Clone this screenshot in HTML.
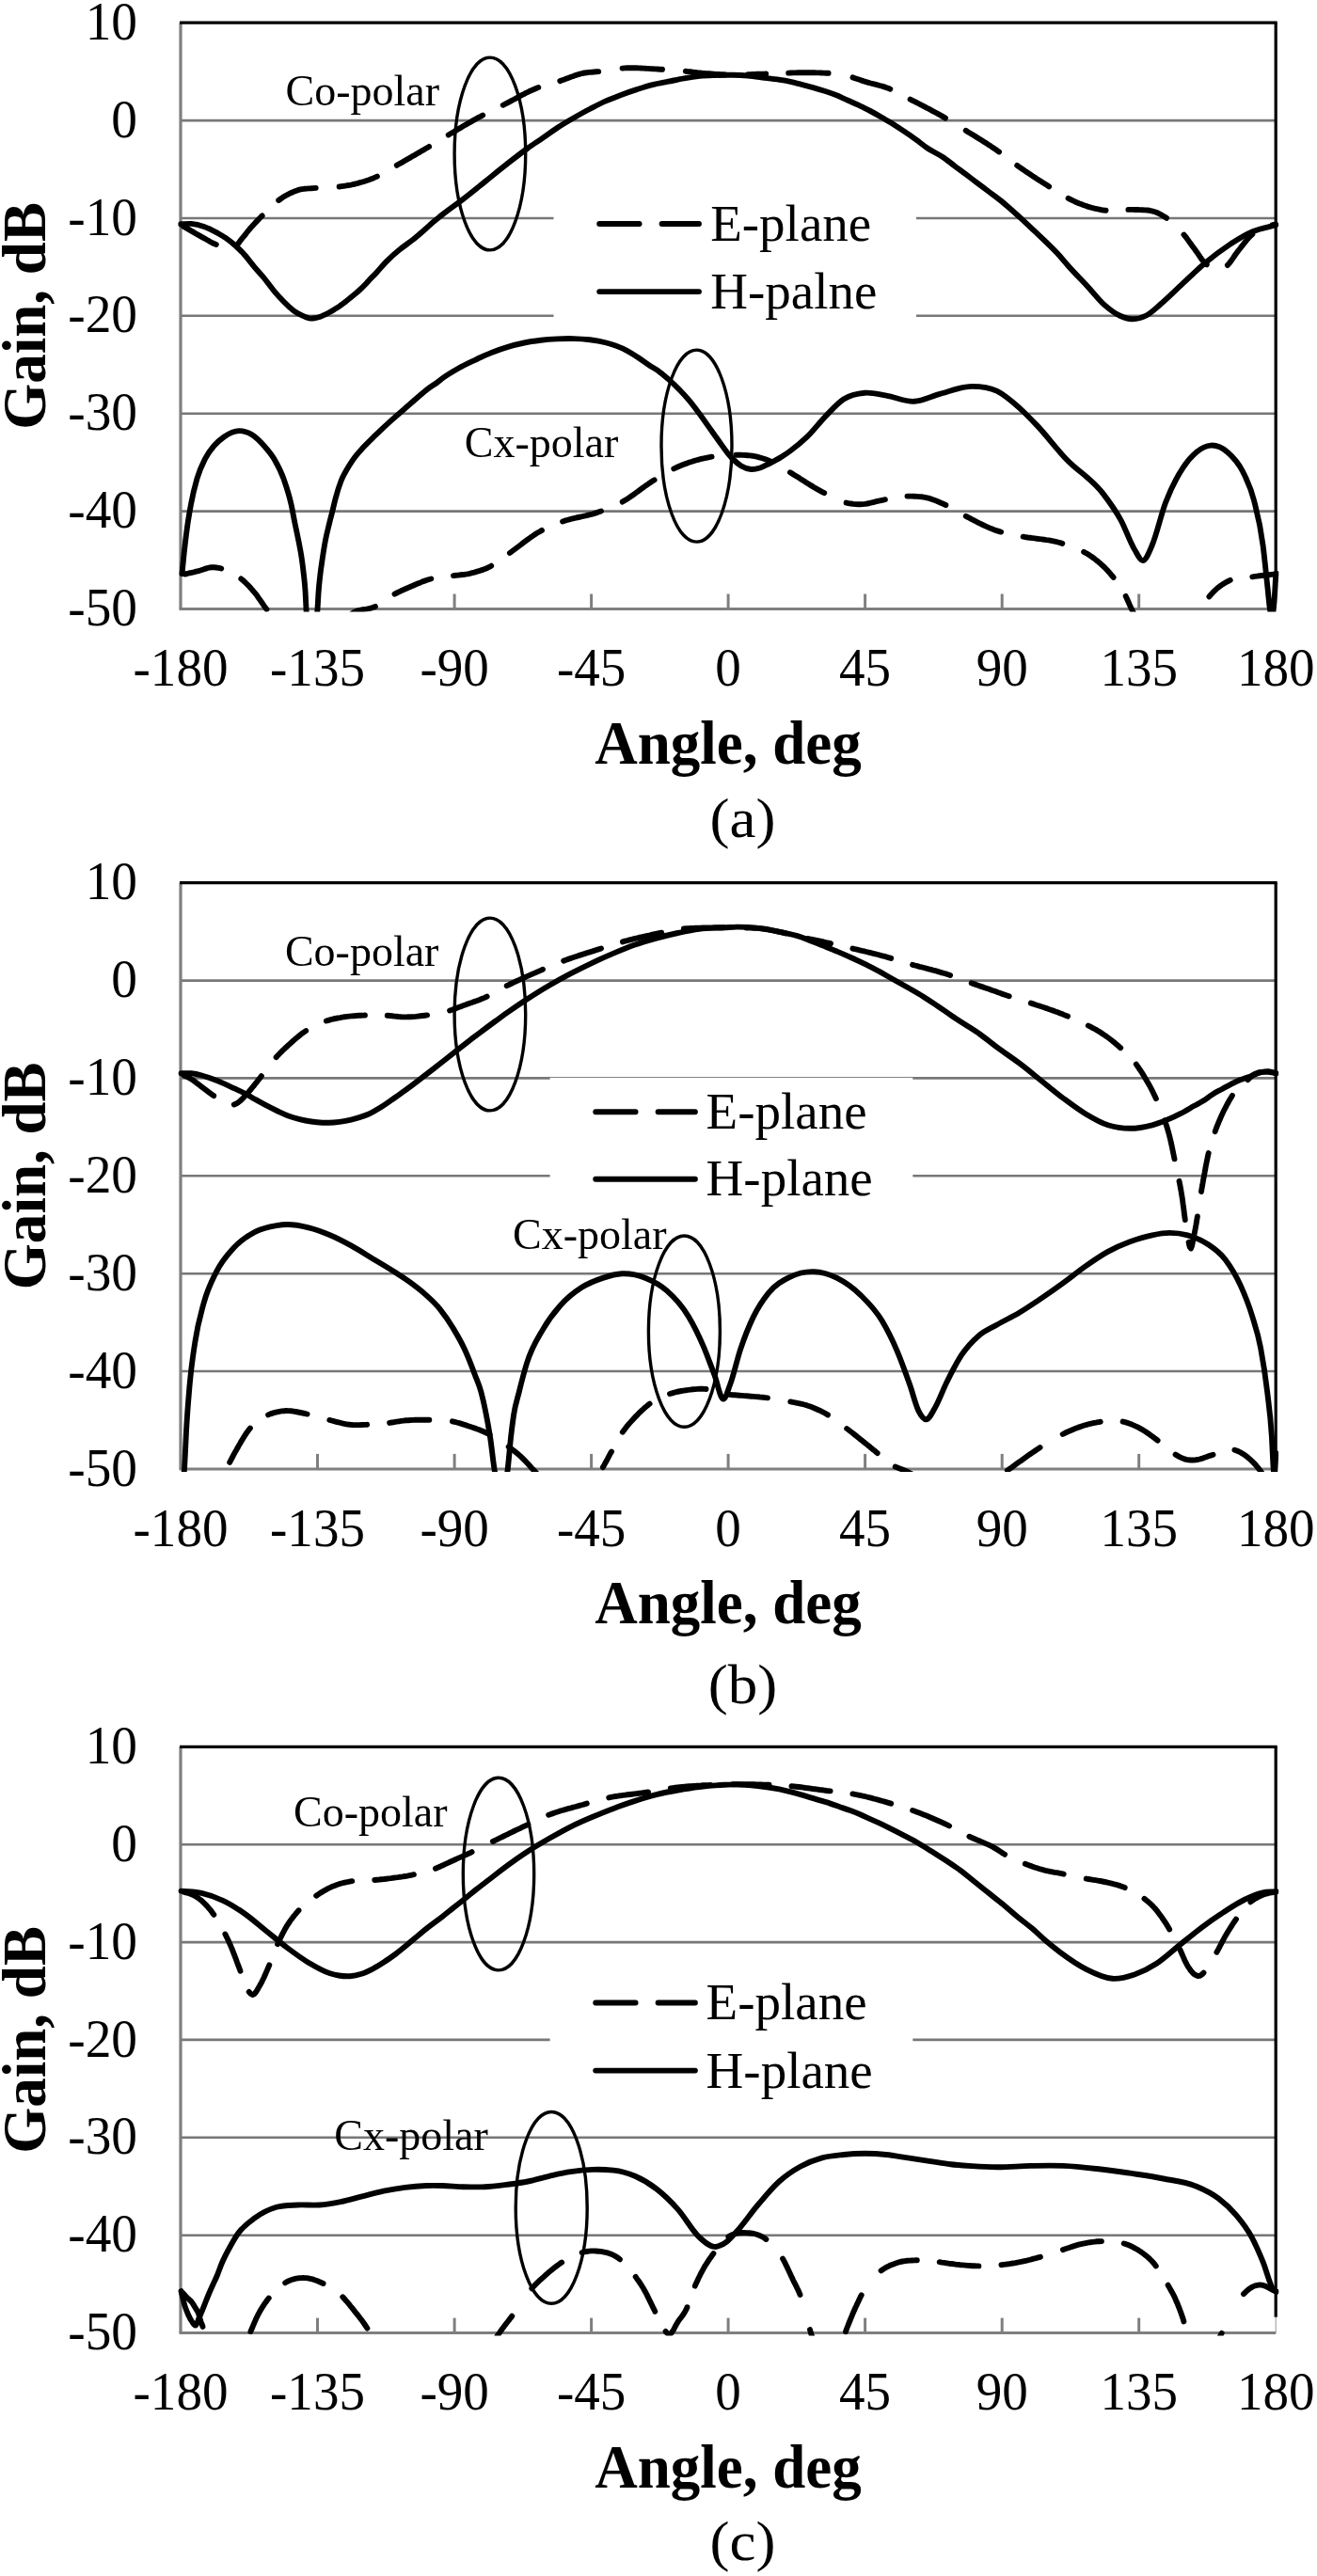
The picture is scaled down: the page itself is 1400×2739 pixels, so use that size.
<!DOCTYPE html><html><head><meta charset="utf-8"><style>html,body{margin:0;padding:0;background:#fff;width:1400px;height:2739px;overflow:hidden}svg{display:block;will-change:transform}text{font-family:"Liberation Serif",serif;fill:#000}</style></head><body>
<svg xmlns="http://www.w3.org/2000/svg" width="1400" height="2739" viewBox="0 0 1400 2739">
<rect width="1400" height="2739" fill="#fff"/>
<g><defs><clipPath id="clip0"><rect x="189" y="21.2" width="1170.2" height="629.3"/></clipPath></defs><line x1="192" y1="128.1" x2="1356.2" y2="128.1" stroke="#777" stroke-width="2.6"/><line x1="192" y1="232" x2="1356.2" y2="232" stroke="#777" stroke-width="2.6"/><line x1="192" y1="335.8" x2="1356.2" y2="335.8" stroke="#777" stroke-width="2.6"/><line x1="192" y1="439.7" x2="1356.2" y2="439.7" stroke="#777" stroke-width="2.6"/><line x1="192" y1="543.6" x2="1356.2" y2="543.6" stroke="#777" stroke-width="2.6"/><line x1="337.5" y1="631.5" x2="337.5" y2="647.5" stroke="#7f7f7f" stroke-width="3"/><line x1="483.1" y1="631.5" x2="483.1" y2="647.5" stroke="#7f7f7f" stroke-width="3"/><line x1="628.6" y1="631.5" x2="628.6" y2="647.5" stroke="#7f7f7f" stroke-width="3"/><line x1="774.1" y1="631.5" x2="774.1" y2="647.5" stroke="#7f7f7f" stroke-width="3"/><line x1="919.6" y1="631.5" x2="919.6" y2="647.5" stroke="#7f7f7f" stroke-width="3"/><line x1="1065.2" y1="631.5" x2="1065.2" y2="647.5" stroke="#7f7f7f" stroke-width="3"/><line x1="1210.7" y1="631.5" x2="1210.7" y2="647.5" stroke="#7f7f7f" stroke-width="3"/><line x1="190.5" y1="647.5" x2="1356.2" y2="647.5" stroke="#7f7f7f" stroke-width="3"/><line x1="192" y1="24.2" x2="192" y2="647.5" stroke="#7f7f7f" stroke-width="3.2"/><line x1="191" y1="24.2" x2="1357.7" y2="24.2" stroke="#000" stroke-width="3.2"/><line x1="1356.2" y1="24.2" x2="1356.2" y2="609.5" stroke="#000" stroke-width="3.2"/><line x1="1356.2" y1="609.5" x2="1356.2" y2="647.5" stroke="#999" stroke-width="1"/><g clip-path="url(#clip0)" fill="none" stroke="#000" stroke-width="5.9" stroke-linecap="round" stroke-linejoin="round"><path d="M192.3,238.3C195.9,238.2 199.6,237.6 203.2,237.9C207.8,238.3 212.3,239.4 216.9,241C221.5,242.6 226,244.9 230.6,247.4C233.6,249.1 236.7,250.8 239.7,252.9C243.3,255.4 247,258.2 250.6,261.5C253.7,264.3 256.9,267.5 260,271C263.3,274.7 266.7,279.3 270,283.3C273.5,287.5 277.1,291.2 280.6,295.5C284.2,299.9 287.7,305 291.3,309.3C294.8,313.5 298.4,317.4 301.9,321C305.4,324.6 309,328 312.5,330.6C316.1,333.2 319.6,334.9 323.2,336.4C325.5,337.3 327.7,338.4 330,338.6C331.8,338.8 333.5,338.4 335.3,338.1C337.1,337.8 338.8,337.4 340.6,336.8C342.4,336.2 344.1,335.3 345.9,334.4C347.7,333.5 349.5,332.5 351.3,331.5C353.1,330.5 354.8,329.4 356.6,328.3C358.4,327.2 360.1,326.1 361.9,324.8C363.7,323.6 365.4,322.2 367.2,320.8C369,319.4 370.7,318 372.5,316.6C374.3,315.2 376,313.8 377.8,312.3C379.6,310.8 381.4,309.2 383.2,307.5C385,305.8 386.7,304.1 388.5,302.2C390.3,300.3 392,298.2 393.8,296.4C395.6,294.5 397.3,292.9 399.1,291.1C403.1,287 407,281.8 411,277.8C415.6,273.2 420.1,269.2 424.7,265.5C429.3,261.8 433.8,258.9 438.4,255.3C442.9,251.7 447.5,247.7 452,243.7C454.7,241.4 457.3,238.9 460,236.6C463.3,233.7 466.7,231.1 470,228.4C477.6,222.3 485.2,217.2 492.8,211.3C500.4,205.4 508,199.2 515.6,193.1C523.2,187 530.7,180.8 538.3,174.9C545.9,169 553.5,162.9 561.1,157.5C566.3,153.8 571.5,150.5 576.7,146.9C582.3,143.1 587.8,138.8 593.4,135.2C599,131.6 604.5,128.4 610.1,125.2C615.7,122 621.2,118.9 626.8,116C632.4,113.1 637.9,110.1 643.5,107.6C649.1,105.1 654.6,103 660.2,100.9C665.8,98.8 671.3,96.9 676.9,95.1C682.5,93.3 688,91.5 693.6,90.1C699.2,88.7 704.8,87.8 710.4,86.7C716,85.6 721.5,84.4 727.1,83.4C732.7,82.4 738.2,81.5 743.8,80.9C749.4,80.3 754.9,80.2 760.5,80C766.8,79.8 773.2,79.7 779.5,79.8C784.6,79.9 789.6,80.1 794.7,80.5C800.8,81 806.8,82 812.9,82.8C819,83.6 825,84 831.1,85.1C834.1,85.6 837.2,86.2 840.2,86.9C844.2,87.8 848.2,88.9 852.2,89.9C856.2,90.9 860.3,92 864.3,93.1C868.4,94.2 872.4,95.4 876.5,96.7C880.5,98 884.6,99.4 888.6,101C892.7,102.6 896.7,104.7 900.8,106.5C904.8,108.3 908.9,110 912.9,111.9C917,113.8 921,115.9 925.1,118C929.1,120.1 933.2,122.4 937.2,124.7C941.3,127 945.3,129.5 949.4,132C953.4,134.5 957.5,137.2 961.5,139.9C965.6,142.6 969.6,145.5 973.7,148.4C977.7,151.3 981.8,154.8 985.8,157.5C991.3,161.2 996.7,163.3 1002.2,167C1006.2,169.7 1010.3,173.1 1014.3,176.1C1018.4,179.1 1022.4,182.2 1026.5,185.2C1030.5,188.2 1034.6,191.3 1038.6,194.3C1042.7,197.4 1046.7,200.4 1050.8,203.5C1054.8,206.5 1058.9,209.4 1062.9,212.6C1067,215.8 1071,219.4 1075.1,222.9C1079.1,226.4 1083.2,230.1 1087.2,233.8C1091.3,237.6 1095.3,241.5 1099.4,245.4C1103.4,249.2 1107.5,253 1111.5,256.9C1115.6,260.9 1119.6,264.7 1123.7,269.1C1127.7,273.4 1131.8,278.5 1135.8,283C1142.8,290.8 1149.7,297.6 1156.7,305.2C1162.3,311.2 1167.8,318.6 1173.4,323.6C1179,328.6 1184.5,332.9 1190.1,335.5C1194.6,337.6 1199,339.1 1203.5,339.2C1208.5,339.3 1213.5,338.1 1218.5,335.5C1223.5,332.9 1228.6,327.9 1233.6,323.6C1241.4,317 1249.1,309.1 1256.9,301.9C1264.7,294.7 1272.5,286.8 1280.3,280.2C1289.2,272.7 1298.2,266 1307.1,260.1C1315.4,254.6 1323.8,249.4 1332.1,245.9C1340.1,242.6 1348.1,241.5 1356.1,239.3"/><path d="M193.5,610.1C194.2,603 194.9,595.4 195.6,588.8C196.7,578.8 197.7,570.1 198.8,562.2C200.2,551.6 201.7,543.4 203.1,535.7C205.2,524.4 207.3,516.4 209.4,509.1C212.3,499.1 215.1,493.5 218,487.8C221.2,481.5 224.3,477.8 227.5,474C231.1,469.8 234.6,467 238.2,464.5C243.5,460.8 248.8,458.2 254.1,458.1C258.7,458 263.3,459.4 267.9,462.3C272.2,464.9 276.4,469.2 280.7,474C284.2,478 287.8,481.8 291.3,487.8C294.8,493.8 298.4,500.1 301.9,510.2C304.4,517.4 306.9,524.5 309.4,535.7C310.8,541.8 312.1,549.8 313.5,556.5C314.8,562.7 316,568.1 317.3,574.7C318.4,580.4 319.5,585.3 320.6,592.9C321.4,598.2 322.1,603.8 322.9,611.1C323.5,616.5 324,619.8 324.6,629.4C324.9,634.5 325.2,642.6 325.5,647.6C326.3,661.5 327.2,661 328,665C329,669.9 330,671.7 331,672C332.2,672.4 333.3,669.7 334.5,665C335.5,661 336.5,661.3 337.5,647.6C337.9,642.6 338.2,634.6 338.6,629.4C339.2,620.9 339.8,616.5 340.4,611.1C341.2,603.6 342.1,598.5 342.9,592.9C343.9,586.2 344.9,580 345.9,574.7C347.3,567.2 348.7,562.3 350.1,556.5C351.2,551.8 352.4,547.6 353.5,543C354.6,538.6 355.7,533.6 356.8,529.5C358.7,522.4 360.6,516.4 362.5,511.5C364.5,506.2 366.6,503.1 368.6,499.4C370.6,495.8 372.7,492.6 374.7,489.6C378.7,483.7 382.8,479.5 386.8,475.1C390.9,470.6 394.9,466.9 399,462.9C405.1,457 411.1,451.4 417.2,445.9C423.3,440.4 429.3,435.4 435.4,430.1C441.5,424.8 447.6,419 453.7,414.3C457.7,411.2 461.8,408.9 465.8,405.8C467.2,404.7 468.6,403.6 470,402.5C475.8,398.1 481.7,394.8 487.5,391.5C493.3,388.2 499.1,385.6 504.9,382.8C510.7,380 516.6,377.2 522.4,374.9C528.2,372.6 534.1,370.5 539.9,368.8C545.7,367.1 551.5,365.7 557.3,364.5C563.1,363.3 569,362.5 574.8,361.8C580.6,361.1 586.4,360.7 592.2,360.4C598,360.1 603.9,360 609.7,360.1C615.5,360.2 621.4,360.6 627.2,361.3C633,362 638.8,363 644.6,364.5C650.4,366.1 656.3,367.9 662.1,370.6C667.9,373.4 673.8,377.1 679.6,381C683.1,383.3 686.5,386 690,388.3C693.4,390.6 696.9,392.3 700.3,394.8C704,397.5 707.6,400.6 711.3,403.9C714.8,407 718.4,410.4 721.9,414C725.4,417.6 729,421.5 732.5,425.7C736.1,430 739.6,434.7 743.2,439.5C746.7,444.3 750.3,449.4 753.8,454.4C757.3,459.4 760.9,464.4 764.4,469.3C767.2,473.2 770.1,477.5 772.9,481C775.3,483.9 777.6,486.7 780,489C782.7,491.6 785.3,493.9 788,495.5C791.5,497.6 794.9,498.7 798.4,499C801.6,499.3 804.8,498.5 808,497.5C811.2,496.5 814.4,494.6 817.6,493C821.7,490.9 825.9,488.9 830,486.3C833.3,484.2 836.7,482 840,479.5C846,475.1 852,470.2 858,464.4C864.8,457.8 871.7,448.6 878.5,441.6C884.6,435.4 890.6,428.5 896.7,424.5C904.3,419.5 911.9,418.3 919.5,417.7C927.1,417.1 934.6,419.5 942.2,420.7C952.1,422.3 961.9,427.3 971.8,426.8C980.9,426.3 990.1,421.2 999.2,418.8C1010.6,415.8 1021.9,410.9 1033.3,410.9C1042.2,410.9 1051.1,411.6 1060,415.9C1067.8,419.7 1075.7,426.7 1083.5,433.6C1089.8,439.2 1096.1,445.8 1102.4,452.4C1112.6,463.2 1122.8,476.9 1133,487.7C1146.3,501.9 1159.7,507.8 1173,525.4C1179.3,533.7 1185.5,541.9 1191.8,553.6C1196.5,562.5 1201.3,576.6 1206,584.2C1209.1,589.3 1212.3,596.8 1215.4,596C1218.5,595.2 1221.7,586.8 1224.8,579.5C1229.5,568.6 1234.2,547.4 1238.9,534.8C1245.2,518.1 1251.4,506.6 1257.7,497.1C1262.4,489.9 1267.2,484.6 1271.9,480.7C1277,476.5 1282.1,473.9 1287.2,473.6C1293.1,473.2 1298.9,475.7 1304.8,480.7C1310.3,485.4 1315.8,490.6 1321.3,501.8C1325.2,509.8 1329.2,516.9 1333.1,532.4C1336.2,544.7 1339.4,555.4 1342.5,579.5C1344.2,592.3 1345.8,609.7 1347.5,625C1348.3,632.6 1349.2,643 1350,648C1350.8,653 1351.7,657.4 1352.5,655C1353.2,653.1 1353.8,648.2 1354.5,640C1355.1,632.6 1355.7,620 1356.3,610"/><path d="M194.9,240.7 197,241.9 199.2,243.1 201.4,244.4 203.5,245.6 205.7,246.9 207.9,248.2 210,249.4 212.2,250.6 214.4,251.9 216.6,253.1 218.7,254.3 220.9,255.5 223.1,256.8 225.3,258 227.5,259.1 229.8,260M252.3,260.1 253.9,258.1 255.4,256.1 256.9,254.1 258.5,252.2 260,250.3 261.6,248.3 263.1,246.3 264.7,244.4 266.3,242.5 268,240.6 269.7,238.8 271.4,236.9 273.1,235.1 274.8,233.3 276.6,231.5 278.3,229.7 278.7,229.4M296.2,213 298.3,211.5 300.3,210.1 302.4,208.8 304.6,207.5 306.8,206.3 309,205.2 311.3,204.2 313.6,203.3 316,202.4 318.4,201.7 320.8,201.2 323.3,200.8 325.8,200.6 328.3,200.4 330.8,200.3 333.3,200.1 335.7,199.9M360.6,198.5 363.1,198.1 365.6,197.8 368.1,197.4 370.5,197 373,196.6 375.4,196 377.9,195.5 380.3,194.9 382.7,194.2 385.1,193.5 387.5,192.8 389.9,192 392.2,191.2 394.6,190.3 396.9,189.4 399.2,188.4 400.9,187.6M421.8,175.8 423.9,174.5 426.1,173.3 428.3,172.1 430.5,170.8 432.6,169.6 434.8,168.3 437,167.1 439.1,165.8 441.3,164.6 443.5,163.3 445.6,162.1 447.8,160.8 449.9,159.6 452.1,158.3 454.3,157 456.1,155.9M476.7,143.5 478.8,142.3 481,141 483.1,139.7 485.3,138.4 487.4,137.1 489.6,135.9 491.7,134.6 493.9,133.3 496,132.1 498.2,130.8 500.4,129.6 502.5,128.4 504.7,127.1 506.9,125.9 509.1,124.7 511.3,123.6 513.2,122.5M534.7,111.8 537,110.7 539.2,109.5 541.4,108.4 543.6,107.2 545.8,106 548,104.8 550.2,103.6 552.4,102.4 554.6,101.2 556.8,100.1 559,98.9 561.3,97.8 563.5,96.7 565.8,95.7 568.1,94.7 570.4,93.7 572.3,93M595.3,86.1 597.6,85.3 600,84.5 602.3,83.6 604.7,82.7 607,81.8 609.4,81 611.7,80.1 614.1,79.3 616.5,78.6 618.9,78 621.4,77.5 623.8,77.2 626.3,76.9 628.8,76.7 631.3,76.5 633.8,76.3 636.2,76.1M661.6,72.6 664.1,72.4 666.6,72.3 669.1,72.3 671.6,72.3 674.1,72.3 676.6,72.3 679.1,72.4 681.6,72.5 684.1,72.6 686.6,72.8 689.1,72.9 691.6,73.1 694.1,73.2 696.6,73.4 699.1,73.5 701.6,73.7 704,73.8M728.8,75.8 731.3,76.1 733.8,76.3 736.3,76.6 738.8,76.9 741.3,77.2 743.7,77.4 746.2,77.7 748.7,77.9 751.2,78.1 753.7,78.3 756.2,78.5 758.7,78.7 761.2,78.9 763.7,79 766.2,79.2 768.7,79.3 771.1,79.4M795.1,79.2 797.6,79.1 800.1,79 802.6,78.9 805.1,78.8 807.6,78.7 810.1,78.6 812.5,78.6 814.2,78.5M838.2,77.6 840.7,77.5 843.2,77.4 845.7,77.4 848.2,77.3 850.7,77.2 853.2,77.2 855.7,77.2 858.2,77.2 860.7,77.2 863.2,77.3 865.7,77.3 868.2,77.4 870.7,77.4 873.2,77.5 875.7,77.6 878.2,77.7 880.6,77.8M906.5,82.4 908.9,83.2 911.3,84 913.7,84.8 916,85.6 918.4,86.4 920.8,87.1 923.2,87.8 925.6,88.5 928,89.1 930.4,89.7 932.9,90.3 935.3,91 937.7,91.6 940.1,92.4 942.4,93.2 944.8,94.1 946.3,94.7M967.6,105.6 969.9,106.8 972.1,107.9 974.3,109 976.5,110.2 978.8,111.3 981,112.5 983.2,113.6 985.4,114.8 987.6,115.9 989.8,117.1 992,118.3 994.2,119.5 996.4,120.7 998.6,121.9 1000.8,123.1 1003,124.4 1005,125.6M1026.7,138.8 1028.8,140.2 1031,141.5 1033.1,142.8 1035.2,144.1 1037.4,145.4 1039.5,146.7 1041.6,148 1043.7,149.3 1045.9,150.7 1048,152 1050.1,153.4 1052.2,154.7 1054.2,156.1 1056.3,157.5 1058.4,158.9 1060.4,160.4 1062,161.5M1081.2,175.9 1083.2,177.4 1085.3,178.8 1087.4,180.2 1089.4,181.6 1091.5,183 1093.6,184.4 1095.7,185.8 1097.7,187.2 1099.8,188.5 1101.9,189.9 1104,191.2 1106.1,192.6 1108.2,193.9 1110.3,195.3 1112.4,196.6 1114.6,198 1115.1,198.4M1135.6,210.9 1137.8,212 1140.1,213.1 1142.3,214.2 1144.6,215.2 1146.9,216.2 1149.2,217.1 1151.6,218 1153.9,218.8 1156.3,219.6 1158.7,220.3 1161.1,221 1163.5,221.7 1166,222.2 1168.4,222.7 1170.9,223.2 1173.4,223.5 1175.5,223.7M1199.4,222.9 1201.9,222.9 1204.4,222.9 1206.9,223 1209.4,223 1211.9,223.1 1214.4,223.2 1216.9,223.4 1219.4,223.5 1221.9,223.8 1224.4,224.3 1226.8,225 1229.1,225.8 1231.4,226.8 1233.7,227.9 1235.8,229.2 1238,230.5 1240,231.8M1258.5,249.5 1260,251.4 1261.6,253.4 1263,255.4 1264.5,257.5 1266,259.5 1267.4,261.5 1268.9,263.5 1270.4,265.5 1271.8,267.6 1273.3,269.6 1274.7,271.7 1276.1,273.8 1277.5,275.8 1279.1,277.7 1280.8,279.6 1282.6,281.3 1282.8,281.4M1304.9,282 1306.6,280.1 1308.1,278.2 1309.6,276.1 1311,274.1 1312.4,272 1313.8,269.9 1315.3,267.9 1316.8,266 1318.4,264 1319.9,262 1321.5,260.1 1323,258.1 1324.6,256.1 1326.2,254.2 1327.8,252.4 1329.6,250.6 1331.4,249M1352.7,239.1 1355.2,238.7 1356.1,238.5"/><path d="M196.4,610.5 198.8,610 201.2,609.4 203.7,608.8 206.1,608.3 208.5,607.7 211,607.1 213,606.5 215.4,605.7 217.8,604.9 220.1,604.1 222.6,603.5 225,603.2 227.5,603.2 230,603.5 232.5,603.9 234.9,604.4 235.2,604.5M256.3,615.4 258.2,617 260.1,618.7 261.9,620.5 263.6,622.2 265.4,624 267,625.9 268.7,627.8 270.3,629.7 271.9,631.6 273.4,633.6 274.8,635.7 276.3,637.7 277.7,639.8 279.1,641.8 280.5,643.9 282,645.9 283.4,647.8M298.7,666.1 300.9,667.5 303.1,668.6 305.4,669.5 307.8,670.2 310.3,670.7 312.8,671 315.2,671.4 317.7,671.7 320.2,672 322.7,672.4 325.2,672.6 327.7,672.7 330.2,672.7 332.6,672.6 335.1,672.4 337.6,672.1 340,671.8M361.7,662.9 363.6,661.3 365.4,659.6 367.3,657.9 369.2,656.2 371.1,654.6 373,653.1 375.1,651.7 377.3,650.4 379.6,649.5 382,648.8 384.4,648.3 386.9,647.9 389.4,647.6 391.9,647.2 394.3,646.6 396.7,645.8 398.9,644.9M419.5,631.6 421.7,630.5 424,629.4 426.2,628.3 428.5,627.3 430.8,626.3 433.1,625.3 435.4,624.3 437.7,623.3 440,622.3 442.3,621.3 444.6,620.3 446.9,619.4 449.2,618.4 451.5,617.6 453.9,616.8 456.3,616 458.3,615.5M482,612.1 484.5,611.8 487,611.6 489.5,611.3 492,611 494.4,610.7 496.9,610.3 499.4,609.8 501.8,609.2 504.2,608.6 506.6,607.9 509,607.2 511.4,606.4 513.8,605.6 516.1,604.7 518.4,603.7 520.6,602.6 522.2,601.7M541.9,588 543.9,586.5 545.9,585 547.9,583.5 549.9,582 551.9,580.5 553.9,579 555.9,577.4 557.9,575.9 559.9,574.4 561.9,573 563.9,571.5 566,570.1 568,568.7 570.1,567.3 572.3,566 574.5,564.8 576,563.9M598.1,554.5 600.4,553.7 602.8,553 605.2,552.3 607.7,551.7 610.1,551.1 612.5,550.5 615,550 617.4,549.5 619.9,548.9 622.3,548.4 624.7,547.8 627.2,547.2 629.6,546.6 632,545.9 634.4,545.1 636.7,544.3 639,543.5M661.7,533.6 663.8,532.3 666,531 668.1,529.6 670.1,528.2 672.2,526.8 674.2,525.3 676.2,523.9 678.3,522.4 680.3,520.9 682.3,519.4 684.3,518 686.3,516.5 688.4,515.1 690.4,513.7 692.5,512.3 694.6,510.9 695.6,510.4M716.3,498.4 718.6,497.3 720.9,496.3 723.2,495.3 725.5,494.3 727.8,493.4 730.2,492.6 732.5,491.7 734.9,491 737.3,490.2 739.7,489.5 742.1,488.8 744.5,488.2 746.9,487.6 749.4,487.1 751.8,486.6 754.3,486.1 756.6,485.7M782.4,483.8 784.9,483.8 787.4,483.8 789.9,483.9 792.4,484 794.9,484.2 797.4,484.4 799.8,484.7 802.3,485.1 804.7,485.6 807.2,486.3 809.6,487 811.9,487.7 814.3,488.6 816.6,489.5 818.9,490.5 819,490.5M839.9,502.3 842.1,503.6 844.2,504.9 846.3,506.2 848.5,507.5 850.6,508.9 852.7,510.2 854.8,511.6 856.9,512.9 859,514.2 861.1,515.6 863.3,516.9 865.4,518.2 867.5,519.4 869.7,520.7 871.9,521.9 874.1,523.1 876.2,524.2M899.6,534.6 902,535.1 904.5,535.5 907,535.9 909.4,536.1 911.9,536.2 914.4,536.2 916.9,536.1 919.4,535.9 921.9,535.5 924.3,535 926.8,534.4 929.2,533.8 931.6,533.2 934.1,532.6 936.5,532.1 939,531.6 940.9,531.2M964.5,527.6 967,527.6 969.5,527.6 972,527.7 974.5,527.9 977,528.1 979.5,528.3 982,528.6 984.4,529.1 986.9,529.7 989.3,530.4 991.6,531.2 994,532.1 996.3,533 998.6,534 1000.9,535 1003.2,536 1005.4,537M1026.8,548.9 1029,550 1031.2,551.2 1033.4,552.4 1035.7,553.5 1037.9,554.7 1040.1,555.8 1042.3,556.9 1044.6,558 1046.9,559.1 1049.1,560.1 1051.4,561.1 1053.7,562.1 1056.1,563 1058.4,563.9 1060.8,564.6 1063.2,565.4 1064.1,565.6M1087.6,570.7 1090.1,571.1 1092.5,571.5 1095,571.8 1097.5,572.1 1100,572.4 1102.4,572.8 1104.9,573.1 1107.4,573.4 1109.9,573.7 1112.4,574.1 1114.8,574.4 1117.3,574.9 1119.7,575.4 1122.2,575.9 1124.6,576.5 1127,577.2 1129.3,577.9M1152.1,586.8 1154.3,588 1156.4,589.3 1158.5,590.6 1160.6,592 1162.7,593.5 1164.6,595 1166.6,596.6 1168.5,598.2 1170.4,599.8 1172.2,601.5 1174,603.2 1175.8,605 1177.5,606.8 1179.2,608.7 1180.8,610.6 1182.4,612.5 1183.6,613.9M1196.7,633.9 1197.8,636.2 1198.8,638.5 1199.8,640.8 1200.8,643.1 1201.8,645.3 1202.9,647.6 1204,649.8 1205.2,652.1 1206.3,654.3 1207.5,656.5 1208.8,658.6 1210,660.8 1211.3,662.9 1212.7,665 1214.2,667 1215.8,668.9 1217.5,670.7M1239.4,678 1241.9,677.9 1244.4,677.5 1246.9,677.1 1249.3,676.4 1251.6,675.5 1253.9,674.4 1256,673.1 1258,671.6 1259.9,670 1261.7,668.3 1263.4,666.4 1265,664.5 1266.4,662.4 1267.9,660.4 1269.2,658.3 1270.6,656.2 1271.9,654.2M1285.4,634.4 1287,632.5 1288.7,630.6 1290.4,628.8 1292.2,627.1 1294.1,625.4 1296.1,623.9 1298.1,622.4 1300.2,621 1302.3,619.7 1304.5,618.5 1306.7,617.4 1307.7,616.9M1331.3,613.3 1333.8,612.9 1336.3,612.6 1338.8,612.3 1341.2,612 1343.7,611.7 1346.2,611.4 1348.7,611.2 1351.2,610.9 1353.7,610.6 1356.1,610.3 1357.8,610.1"/></g><rect x="588.5" y="200" width="385.5" height="150" fill="#fff"/><line x1="637.2" y1="238" x2="743" y2="238" stroke="#000" stroke-width="5.9" stroke-linecap="round" stroke-dasharray="42.4 24"/><line x1="637.2" y1="310.1" x2="743" y2="310.1" stroke="#000" stroke-width="5.9" stroke-linecap="round"/><text x="755.2" y="256.2" font-size="55">E-plane</text><text x="755.2" y="328.2" font-size="55">H-palne</text><ellipse cx="520.9" cy="163.5" rx="37.8" ry="102.4" fill="none" stroke="#000" stroke-width="3.4"/><ellipse cx="740.5" cy="474.1" rx="37.5" ry="102" fill="none" stroke="#000" stroke-width="3.4"/><text x="303.6" y="112.2" font-size="46">Co-polar</text><text x="493.8" y="485.6" font-size="46">Cx-polar</text><text transform="translate(146,41.8) scale(0.98,1)" font-size="56.5" text-anchor="end">10</text><text transform="translate(146,145.7) scale(0.98,1)" font-size="56.5" text-anchor="end">0</text><text transform="translate(146,249.6) scale(0.98,1)" font-size="56.5" text-anchor="end">-10</text><text transform="translate(146,353.4) scale(0.98,1)" font-size="56.5" text-anchor="end">-20</text><text transform="translate(146,457.3) scale(0.98,1)" font-size="56.5" text-anchor="end">-30</text><text transform="translate(146,561.2) scale(0.98,1)" font-size="56.5" text-anchor="end">-40</text><text transform="translate(146,665.1) scale(0.98,1)" font-size="56.5" text-anchor="end">-50</text><text transform="translate(192,729.1) scale(0.975,1)" font-size="56.5" text-anchor="middle">-180</text><text transform="translate(337.5,729.1) scale(0.975,1)" font-size="56.5" text-anchor="middle">-135</text><text transform="translate(483.1,729.1) scale(0.975,1)" font-size="56.5" text-anchor="middle">-90</text><text transform="translate(628.6,729.1) scale(0.975,1)" font-size="56.5" text-anchor="middle">-45</text><text transform="translate(774.1,729.1) scale(0.975,1)" font-size="56.5" text-anchor="middle">0</text><text transform="translate(919.6,729.1) scale(0.975,1)" font-size="56.5" text-anchor="middle">45</text><text transform="translate(1065.2,729.1) scale(0.975,1)" font-size="56.5" text-anchor="middle">90</text><text transform="translate(1210.7,729.1) scale(0.975,1)" font-size="56.5" text-anchor="middle">135</text><text transform="translate(1356.2,729.1) scale(0.975,1)" font-size="56.5" text-anchor="middle">180</text><text transform="translate(774,811.8) scale(0.97,1)" font-size="65" font-weight="bold" text-anchor="middle">Angle, deg</text><text transform="translate(47.5,335.9) rotate(-90) scale(0.97,1)" font-size="65" font-weight="bold" text-anchor="middle">Gain, dB</text><text transform="translate(789.5,890.2) scale(1.05,1)" font-size="60" text-anchor="middle">(a)</text></g>
<g><defs><clipPath id="clip1"><rect x="189" y="935.7" width="1170.2" height="629.2"/></clipPath></defs><line x1="192" y1="1042.6" x2="1356.2" y2="1042.6" stroke="#777" stroke-width="2.6"/><line x1="192" y1="1146.4" x2="1356.2" y2="1146.4" stroke="#777" stroke-width="2.6"/><line x1="192" y1="1250.3" x2="1356.2" y2="1250.3" stroke="#777" stroke-width="2.6"/><line x1="192" y1="1354.2" x2="1356.2" y2="1354.2" stroke="#777" stroke-width="2.6"/><line x1="192" y1="1458" x2="1356.2" y2="1458" stroke="#777" stroke-width="2.6"/><line x1="337.5" y1="1545.9" x2="337.5" y2="1561.9" stroke="#7f7f7f" stroke-width="3"/><line x1="483.1" y1="1545.9" x2="483.1" y2="1561.9" stroke="#7f7f7f" stroke-width="3"/><line x1="628.6" y1="1545.9" x2="628.6" y2="1561.9" stroke="#7f7f7f" stroke-width="3"/><line x1="774.1" y1="1545.9" x2="774.1" y2="1561.9" stroke="#7f7f7f" stroke-width="3"/><line x1="919.6" y1="1545.9" x2="919.6" y2="1561.9" stroke="#7f7f7f" stroke-width="3"/><line x1="1065.2" y1="1545.9" x2="1065.2" y2="1561.9" stroke="#7f7f7f" stroke-width="3"/><line x1="1210.7" y1="1545.9" x2="1210.7" y2="1561.9" stroke="#7f7f7f" stroke-width="3"/><line x1="190.5" y1="1561.9" x2="1356.2" y2="1561.9" stroke="#7f7f7f" stroke-width="3"/><line x1="192" y1="938.7" x2="192" y2="1561.9" stroke="#7f7f7f" stroke-width="3.2"/><line x1="191" y1="938.7" x2="1357.7" y2="938.7" stroke="#000" stroke-width="3.2"/><line x1="1356.2" y1="938.7" x2="1356.2" y2="1545.6" stroke="#000" stroke-width="3.2"/><line x1="1356.2" y1="1545.6" x2="1356.2" y2="1561.9" stroke="#999" stroke-width="1"/><g clip-path="url(#clip1)" fill="none" stroke="#000" stroke-width="5.9" stroke-linecap="round" stroke-linejoin="round"><path d="M192.6,1141.3C196.1,1141.3 199.7,1141 203.2,1141.3C207,1141.7 210.8,1142.5 214.6,1143.5C218.4,1144.5 222.2,1145.9 226,1147.3C229.8,1148.7 233.6,1150.2 237.4,1151.9C241.2,1153.5 244.9,1155.4 248.7,1157.2C252.5,1159 256.3,1160.5 260.1,1162.5C263.4,1164.2 266.7,1166.3 270,1168.2C274.1,1170.5 278.1,1172.8 282.2,1174.9C286.2,1177 290.3,1179.1 294.3,1181C298.4,1182.9 302.4,1185 306.5,1186.5C310.5,1188 314.6,1189.1 318.6,1190.1C322.7,1191.1 326.7,1191.9 330.8,1192.5C334.8,1193.1 338.9,1193.5 342.9,1193.7C347,1193.9 351,1193.7 355.1,1193.5C359.1,1193.3 363.2,1192.7 367.2,1191.9C371.3,1191.1 375.3,1190.1 379.4,1188.9C383.4,1187.7 387.5,1186.6 391.5,1184.8C395.6,1183 399.6,1180.6 403.7,1178.1C407.7,1175.6 411.8,1172.7 415.8,1169.9C420.5,1166.6 425.3,1163.3 430,1159.9C435.3,1156 440.7,1151.9 446,1147.8C451.5,1143.6 457,1139.4 462.5,1135.1C469.6,1129.6 476.7,1123.9 483.8,1118.4C490.9,1112.9 497.9,1107.3 505,1101.9C512.1,1096.5 519.2,1091.2 526.3,1086C530.9,1082.7 535.4,1079.4 540,1076.2C546.1,1071.9 552.1,1067.8 558.2,1063.8C566.8,1058.2 575.3,1052.8 583.9,1047.8C591.5,1043.4 599.1,1039.2 606.7,1035.2C614.3,1031.2 621.9,1027.4 629.5,1023.8C637.1,1020.2 644.6,1016.8 652.2,1013.6C659.8,1010.4 667.4,1007.2 675,1004.5C682.6,1001.8 690.2,999.7 697.8,997.6C705.4,995.5 713,993.6 720.6,992C728.2,990.4 735.7,988.8 743.3,987.8C752.2,986.7 761.1,986.8 770,986.3C774.3,986.1 778.5,985.7 782.8,985.6C790.4,985.5 798,986 805.6,986.9C813.2,987.8 820.7,989.2 828.3,990.8C835.9,992.4 843.5,993.7 851.1,996.3C854.1,997.3 857,998.6 860,999.7C865,1001.6 870,1003.5 875,1005.5C880.1,1007.6 885.3,1009.7 890.4,1011.9C895.4,1014 900.5,1016.2 905.5,1018.5C910.6,1020.8 915.6,1023.1 920.7,1025.6C925.8,1028.1 930.9,1030.9 936,1033.7C941,1036.5 946.1,1039.5 951.1,1042.3C956.2,1045.2 961.2,1047.9 966.3,1050.8C971.4,1053.7 976.4,1056.5 981.5,1059.7C986.6,1062.9 991.6,1066.3 996.7,1069.7C1001.8,1073.1 1006.8,1076.8 1011.9,1080.2C1016.9,1083.6 1022,1086.7 1027,1090C1032.1,1093.3 1037.1,1096.4 1042.2,1100C1048.1,1104.2 1054.1,1109.2 1060,1113.6C1067.8,1119.4 1075.7,1124.5 1083.5,1130.4C1091.4,1136.3 1099.2,1142.9 1107.1,1149.2C1114.9,1155.5 1122.8,1162.1 1130.6,1168C1138.5,1173.9 1146.3,1179.8 1154.2,1184.5C1162,1189.2 1169.9,1193.8 1177.7,1196.3C1185.5,1198.8 1193.4,1199.8 1201.2,1199.8C1209.1,1199.8 1216.9,1198.4 1224.8,1196.3C1229.8,1195 1234.9,1193.1 1239.9,1191.1C1244.8,1189.1 1249.8,1186.8 1254.7,1184.2C1259.6,1181.7 1264.6,1178.6 1269.5,1175.8C1272.8,1174 1276.1,1172.4 1279.4,1170.3C1282.7,1168.2 1285.9,1165.4 1289.2,1163.4C1292.5,1161.3 1295.8,1159.8 1299.1,1158C1302.4,1156.2 1305.7,1154.3 1309,1152.6C1312.3,1151 1315.5,1149.4 1318.8,1148.1C1322.1,1146.8 1325.4,1145.9 1328.7,1144.7C1332,1143.5 1335.3,1141.6 1338.6,1140.7C1341.9,1139.8 1345.2,1139 1348.5,1139.2C1351.1,1139.4 1353.8,1140.5 1356.4,1141.2"/><path d="M194,1580C194.7,1573.9 195.3,1571.1 196,1561.6C196.7,1551.2 197.5,1530.9 198.2,1518.3C199.3,1498.8 200.5,1485.7 201.6,1472.8C203.5,1451.2 205.4,1439.8 207.3,1427.2C210.3,1407 213.4,1397.4 216.4,1386.2C221,1369.3 225.5,1361.3 230.1,1352.1C236.2,1339.9 242.2,1333.7 248.3,1327C255.9,1318.6 263.5,1313.9 271.1,1309.9C278.7,1305.9 286.3,1304.3 293.9,1303.1C297.7,1302.5 301.5,1302.1 305.3,1302C312.9,1301.9 320.5,1303.5 328.1,1305.4C335.7,1307.3 343.2,1310.1 350.8,1313.3C358.4,1316.5 366,1320.5 373.6,1324.7C381.2,1328.9 388.8,1333.8 396.4,1338.4C404.3,1343.2 412.1,1347.7 420,1352.8C425.3,1356.2 430.6,1359.5 435.9,1363.4C441.2,1367.3 446.6,1371.3 451.9,1376.1C457.2,1380.9 462.5,1385.5 467.8,1392.1C472.4,1397.9 477.1,1404.6 481.7,1412.3C485.9,1419.3 490.2,1426.4 494.4,1435.7C497.9,1443.5 501.5,1452.7 505,1462.2C507.1,1467.9 509.3,1472.1 511.4,1480C512.9,1485.7 514.5,1492.4 516,1500C517.8,1508.7 519.5,1517.9 521.3,1529.7C522.8,1539.7 524.3,1555.4 525.8,1563.9C527.2,1571.8 528.6,1577.1 530,1580C531.7,1583.5 533.3,1583.1 535,1580C536.5,1577.2 538,1574.8 539.5,1563.9C540.6,1555.7 541.8,1539.9 542.9,1529.7C543.9,1520.4 545,1511.9 546,1505C547.9,1492.1 549.9,1487.9 551.8,1480C554.5,1468.9 557.3,1458.2 560,1449.5C565.7,1431.3 571.4,1423.6 577.1,1413.6C583.2,1403 589.2,1395.4 595.3,1388.5C602.9,1379.8 610.5,1374 618.1,1369.1C625.7,1364.2 633.2,1361.4 640.8,1358.9C647.6,1356.6 654.5,1354.6 661.3,1354.3C669.7,1354 678,1355.5 686.4,1358.9C694,1362 701.6,1365.8 709.2,1372.6C716.8,1379.4 724.4,1387.2 732,1399.9C737.3,1408.8 742.6,1419.3 747.9,1431.8C751.7,1440.7 755.5,1451.4 759.3,1461.4C762.6,1470 765.8,1488.2 769.1,1487.6C771.4,1487.2 773.6,1478.8 775.9,1472.8C779.7,1462.8 783.5,1445.4 787.3,1434.1C791.9,1420.5 796.4,1409.4 801,1399.9C806.3,1388.9 811.6,1381.4 816.9,1374.8C824.5,1365.4 832.1,1361.6 839.7,1357.8C848.1,1353.6 856.4,1351.9 864.8,1352.1C873.1,1352.3 881.5,1354.7 889.8,1358.9C898.2,1363.1 906.5,1368.9 914.9,1377.1C922.5,1384.5 930.1,1391.8 937.7,1404.5C943,1413.4 948.3,1423.8 953.6,1436.3C958.2,1447.1 962.7,1459.7 967.3,1472.8C970.3,1481.5 973.4,1494 976.4,1500.1C979.1,1505.5 981.7,1509.1 984.4,1509.2C987.8,1509.4 991.2,1501.5 994.6,1495.6C998.4,1489 1002.2,1478.3 1006,1470.5C1011.3,1459.5 1016.7,1449 1022,1440.9C1028.1,1431.7 1034.1,1425.7 1040.2,1420.4C1046.8,1414.6 1053.4,1412.3 1060,1408.5C1067.8,1404 1075.7,1400.4 1083.5,1395.7C1091.4,1391 1099.2,1385.7 1107.1,1380.4C1114.9,1375.1 1122.8,1369.6 1130.6,1363.9C1138.5,1358.2 1146.3,1351.7 1154.2,1346.2C1162,1340.7 1169.9,1335.2 1177.7,1330.9C1185.5,1326.6 1193.4,1323.2 1201.2,1320.3C1209.1,1317.4 1216.9,1314.9 1224.8,1313.3C1231.1,1312 1237.3,1310.9 1243.6,1310.9C1249.9,1310.9 1256.1,1311.6 1262.4,1313.3C1269.5,1315.3 1276.5,1318 1283.6,1322.7C1289.9,1326.9 1296.2,1330.9 1302.5,1339.2C1308,1346.5 1313.5,1355.1 1319,1367.4C1322.9,1376.1 1326.8,1385.3 1330.7,1398C1333.8,1408.2 1337,1416.4 1340.1,1433.3C1342.5,1446.1 1344.8,1459.9 1347.2,1480.4C1348.8,1494 1350.3,1502.3 1351.9,1527.5C1352.5,1537.7 1353.2,1556.6 1353.8,1562.8C1354.2,1566.7 1354.6,1570.5 1355,1568C1355.4,1565.3 1355.9,1552.7 1356.3,1545"/><path d="M195.3,1143.3 197.5,1144.3 199.8,1145.4 202,1146.6 204.1,1147.9 206.2,1149.3 208.2,1150.8 210.2,1152.3 212.2,1153.8 214.1,1155.4 216.1,1156.9 218.1,1158.4 220.1,1159.9 222.1,1161.5 224.1,1162.9 226.1,1164.4 227.2,1165.1M248.8,1174.5 251.1,1173.6 253.2,1172.2 255.1,1170.7 257,1169 258.7,1167.2 260.4,1165.3 262.1,1163.5 263.8,1161.6 265.4,1159.8 267,1157.8 268.6,1155.9 270.2,1154 271.7,1152 273.3,1150.1 274.8,1148.1 276.4,1146.1 277.9,1144.2M293.6,1124.1 295.3,1122.3 297,1120.5 298.8,1118.7 300.5,1116.9 302.4,1115.2 304.2,1113.5 306,1111.8 307.9,1110.1 309.7,1108.5 311.6,1106.8 313.5,1105.1 315.4,1103.5 317.3,1101.9 319.2,1100.4 321.2,1098.8 323.3,1097.4 325.2,1096M346.8,1085.5 349.2,1084.8 351.6,1084.1 354,1083.5 356.5,1083 358.9,1082.5 361.4,1082.1 363.8,1081.6 366.3,1081.2 368.8,1080.9 371.3,1080.6 373.7,1080.4 376.2,1080.2 378.7,1080 381.2,1079.8 383.7,1079.7 386.2,1079.6 387.9,1079.5M411.8,1079.8 414.3,1080 416.8,1080.3 419.3,1080.6 421.8,1080.8 424.3,1081.1 426.8,1081.3 429.3,1081.4 431.8,1081.4 434.3,1081.3 436.8,1081.2 439.3,1081.1 441.7,1080.9 444.2,1080.6 446.7,1080.3 449.2,1080 451.7,1079.7 454.1,1079.4M478.1,1074.5 480.5,1073.7 482.8,1072.9 485.2,1072 487.5,1071.1 489.9,1070.2 492.2,1069.3 494.5,1068.5 496.9,1067.6 499.2,1066.8 501.6,1066 504,1065.1 506.3,1064.3 508.7,1063.4 511,1062.5 513.3,1061.6 515.6,1060.6 517.6,1059.6M538.7,1048.2 541,1047.1 543.2,1046 545.5,1044.9 547.7,1043.8 550,1042.8 552.3,1041.7 554.6,1040.7 556.8,1039.7 559.1,1038.6 561.4,1037.6 563.7,1036.6 566,1035.6 568.3,1034.6 570.6,1033.6 572.9,1032.6 575.2,1031.6 577,1030.8M599.2,1021.6 601.5,1020.8 603.8,1019.9 606.2,1019.1 608.6,1018.3 610.9,1017.5 613.3,1016.7 615.7,1015.9 618.1,1015.1 620.4,1014.4 622.8,1013.6 625.2,1012.8 627.6,1012.1 630,1011.4 632.4,1010.6 634.7,1009.8 637.1,1009.1 639,1008.5M661.9,1001.4 664.3,1000.7 666.8,1000.1 669.2,999.4 671.6,998.8 674,998.2 676.5,997.6 678.9,997 681.3,996.5 683.8,995.9 686.2,995.3 688.6,994.8 691.1,994.3 693.5,993.7 696,993.2 698.4,992.7 700.9,992.2 703.2,991.7M726.9,987.5 729.4,987.3 731.9,987.2 734.4,987 736.9,986.9 739.4,986.8 741.9,986.7 744.4,986.6 746.9,986.5 749.4,986.5 751.9,986.4 754.4,986.4 756.9,986.4 759.4,986.3 761.9,986.3 764.4,986.3 766.9,986.3 769.3,986.3M793.3,986.5 795.8,986.5 798.3,986.6 800.8,986.7 803.3,986.8 805.8,986.9 808.3,987.1 810.8,987.4 813.2,987.7 815.7,988.2 818.2,988.6 820.6,989.2 823.1,989.7 825.5,990.2 827.9,990.7 830.4,991.2 832.8,991.8 835.2,992.4M858.5,997.9 860.9,998.5 863.4,999 865.8,999.5 868.3,1000 870.7,1000.5 873.2,1001 875.6,1001.5 878.1,1002.1 880.5,1002.6 883,1003.2 883,1003.2M906.4,1008.6 908.8,1009.2 911.2,1009.7 913.7,1010.3 916.1,1010.9 918.5,1011.4 921,1012 923.4,1012.6 925.8,1013.2 928.3,1013.8 930.7,1014.4 933.1,1015 935.5,1015.7 937.9,1016.3 940.4,1016.9 942.8,1017.6 945.2,1018.3 947.2,1018.9M970.1,1025.8 972.5,1026.5 975,1027.1 977.4,1027.8 979.8,1028.4 982.2,1029 984.6,1029.7 987.1,1030.3 989.5,1030.9 991.9,1031.6 994.3,1032.2 996.7,1032.9 999.1,1033.6 1001.5,1034.3 1003.9,1035 1006.3,1035.7 1008.7,1036.5 1010.1,1037M1032.7,1045.3 1035,1046.1 1037.4,1046.9 1039.8,1047.8 1042.1,1048.6 1044.5,1049.4 1046.8,1050.2 1049.2,1051 1051.6,1051.8 1053.9,1052.7 1056.3,1053.5 1058.7,1054.3 1061,1055.2 1063.4,1056 1065.7,1056.9 1068.1,1057.7 1070.4,1058.5 1072.7,1059.3M1095.8,1066.6 1098.2,1067.4 1100.6,1068.2 1102.9,1069 1105.3,1069.7 1107.7,1070.5 1110,1071.3 1112.4,1072.1 1114.8,1073 1117.1,1073.8 1119.5,1074.6 1121.8,1075.5 1124.2,1076.3 1126.5,1077.2 1128.8,1078.1 1131.2,1079.1 1133.5,1080 1135,1080.6M1156.8,1090.5 1159.1,1091.7 1161.3,1092.8 1163.5,1094 1165.7,1095.2 1167.8,1096.5 1169.9,1097.8 1172,1099.2 1174.1,1100.6 1176.2,1102 1178.2,1103.5 1180.2,1105 1182.1,1106.5 1184.1,1108.1 1186,1109.7 1187.9,1111.3 1189.8,1113 1191.2,1114.2M1207.8,1131.6 1209.2,1133.6 1210.6,1135.7 1212,1137.7 1213.4,1139.8 1214.7,1141.9 1216,1144.1 1217.3,1146.2 1218.6,1148.4 1219.8,1150.5 1221.1,1152.7 1222.3,1154.9 1223.5,1157.1 1224.6,1159.3 1225.7,1161.5 1226.8,1163.8 1227.9,1166.1 1228.9,1168.2M1238.1,1191.3 1238.9,1193.6 1239.7,1196 1240.5,1198.4 1241.2,1200.8 1241.9,1203.2 1242.6,1205.6 1243.2,1208 1243.8,1210.4 1244.4,1212.9 1244.9,1215.3 1245.5,1217.8 1246,1220.2 1246.5,1222.6 1247,1225.1 1247.5,1227.5 1248,1230 1248.5,1232.3M1253.5,1255.8 1254,1258.2 1254.5,1260.7 1254.9,1263.2 1255.4,1265.6 1255.8,1268.1 1256.2,1270.5 1256.6,1273 1257,1275.5 1257.3,1278 1257.6,1280.4 1258,1282.9 1258.3,1285.4 1258.6,1287.9 1258.9,1290.4 1259.2,1292.8 1259.6,1295.3 1259.8,1297.1M1263.6,1320.8 1264.1,1323.3 1264.7,1325.7 1266,1327.5 1266.9,1325.2 1267.5,1322.8 1267.9,1320.3 1268.4,1317.9 1268.9,1315.4 1269.4,1313 1269.9,1310.5 1270.4,1308.1 1270.8,1305.6 1271.3,1303.1 1271.7,1300.7 1272.1,1298.2 1272.5,1295.7 1272.9,1293.4M1277,1267 1277.4,1264.5 1277.8,1262.1 1278.3,1259.6 1278.7,1257.1 1279.1,1254.7 1279.6,1252.2 1280,1249.8 1280.5,1247.3 1280.9,1244.8 1281.4,1242.4 1281.8,1239.9 1282.3,1237.5 1282.8,1235 1283.3,1232.6 1283.8,1230.1 1284.3,1227.7 1284.7,1226.1M1291.7,1203.1 1292.5,1200.8 1293.4,1198.4 1294.3,1196.1 1295.3,1193.8 1296.2,1191.5 1297.2,1189.2 1298.2,1186.9 1299.3,1184.6 1300.3,1182.4 1301.4,1180.1 1302.6,1177.9 1303.7,1175.7 1304.9,1173.5 1306.1,1171.3 1307.4,1169.1 1308.7,1167 1309.9,1164.9M1326.5,1148.1 1328.3,1146.4 1330.1,1144.7 1332.1,1143.1 1334.2,1141.8 1336.5,1140.9 1338.9,1140.2 1341.4,1139.9 1343.9,1139.7 1346.4,1139.7 1348.9,1139.9 1351.4,1140.2 1353.8,1140.7 1356.3,1141.2 1356.4,1141.2"/><path d="M200.8,1595.9 203.3,1596.2 205.8,1596.5 208.3,1596.5 210.8,1596.3 213.2,1595.7 215.5,1594.8 217.4,1593.9 219.7,1592.9 221.9,1591.8 224,1590.4 226,1588.9 227.8,1587.2 229.4,1585.3 230.9,1583.3 232.3,1581.2 233.5,1579 234.6,1576.9M244.2,1554.9 245.3,1552.7 246.5,1550.5 247.7,1548.2 248.8,1546 250,1543.9 251.3,1541.7 252.5,1539.5 253.7,1537.3 255,1535.2 256.2,1533 257.5,1530.9 258.8,1528.7 260.1,1526.6 261.5,1524.5 262.9,1522.4 264.4,1520.4 265.9,1518.6M285.1,1504.4 287.4,1503.4 289.8,1502.6 292.1,1501.9 294.6,1501.3 297,1500.8 299.5,1500.4 302,1500.2 304.5,1500 307,1500.1 309.5,1500.3 312,1500.6 314.4,1501 316.9,1501.5 319.3,1502 321.8,1502.5 324.2,1503 326.6,1503.6M350.3,1509.9 352.7,1510.5 355.1,1511.2 357.5,1511.8 359.9,1512.4 362.4,1513 364.8,1513.6 367.3,1514.1 369.7,1514.5 372.2,1514.8 374.7,1515 377.2,1515.1 379.7,1515.1 382.2,1515.1 384.7,1515 387.2,1514.9 389.7,1514.9 390.2,1514.8M414.1,1512.9 416.6,1512.5 419.1,1512.1 421.5,1511.7 424,1511.3 426.5,1510.9 428.9,1510.6 431.4,1510.3 433.9,1510.2 436.4,1510 438.9,1509.9 441.4,1509.8 443.9,1509.7 446.4,1509.7 448.9,1509.7 451.4,1509.7 453.9,1509.7 456.3,1509.7M480.9,1511.3 483.3,1511.9 485.8,1512.5 488.2,1513.2 490.6,1513.9 492.9,1514.7 495.3,1515.4 497.7,1516.2 500.1,1517 502.4,1517.8 504.8,1518.6 507.2,1519.5 509.5,1520.3 511.8,1521.3 514.1,1522.3 516.4,1523.3 518.6,1524.4 520.5,1525.4M540.7,1538.3 542.7,1539.8 544.7,1541.3 546.7,1542.8 548.6,1544.4 550.6,1546 552.4,1547.6 554.3,1549.3 556.1,1551.1 557.8,1552.8 559.6,1554.7 561.3,1556.5 562.9,1558.3 564.6,1560.2 566.3,1562.1 568,1563.9 569.7,1565.7 571.3,1567.5M588.3,1584.3 590.4,1585.7 592.6,1586.9 594.8,1587.9 597.2,1588.8 599.6,1589.5 602,1589.9 604.5,1590 607,1589.8 609.5,1589.3 611.8,1588.5 614.2,1587.6 616.4,1586.4 618.5,1585.1 620.5,1583.7 622.5,1582.1 624.4,1580.5 626.2,1578.9M640.9,1560.1 642.2,1557.9 643.4,1555.7 644.6,1553.5 645.8,1551.3 646.9,1549.1 648.1,1546.9 649.3,1544.7 650,1543.6M661.8,1522.7 663.3,1520.7 664.8,1518.7 666.3,1516.7 667.9,1514.8 669.6,1512.9 671.2,1511.1 672.9,1509.2 674.6,1507.4 676.3,1505.6 678.1,1503.8 679.8,1502 681.6,1500.3 683.5,1498.6 685.3,1496.9 687.3,1495.3 689.2,1493.7 690.6,1492.7M712,1482 714.4,1481.3 716.8,1480.6 719.2,1480 721.6,1479.5 724.1,1479 726.6,1478.6 729,1478.3 731.5,1477.9 734,1477.6 736.5,1477.3 739,1477.1 741.5,1476.9 744,1476.8 746.5,1476.8 749,1476.9 750.5,1477M773.8,1482.6 776.2,1482.9 778.7,1483.2 781.2,1483.3 783.7,1483.5 786.2,1483.7 788.7,1483.9 791.2,1484.1 793.7,1484.3 796.2,1484.5 798.7,1484.7 801.2,1484.9 803.7,1485.1 806.1,1485.3 808.6,1485.6 811.1,1485.8 813.6,1486.1 816,1486.4M840.3,1490.4 842.8,1490.9 845.2,1491.3 847.7,1491.8 850.1,1492.3 852.6,1492.9 855,1493.5 857.4,1494.2 859.7,1495 862.1,1495.8 864.4,1496.7 866.8,1497.7 869,1498.7 871.3,1499.7 873.6,1500.8 875.8,1502 878,1503.2 880,1504.4M900.2,1519 902.2,1520.5 904.1,1522 906.1,1523.5 908.1,1525.1 910,1526.6 912,1528.2 913.9,1529.8 915.9,1531.3 917.8,1532.9 919.8,1534.5 921.7,1536 923.7,1537.6 925.6,1539.2 927.5,1540.8 929.5,1542.3 931.4,1543.9 932.7,1545M951.7,1559.6 954,1560.5 956.4,1561.4 958.7,1562.3 961,1563.2 963.3,1564.2 965.6,1565.3 967.8,1566.5 970,1567.7 972.1,1568.9 974.3,1570.2 976.5,1571.4 978.6,1572.6 980.8,1573.9 983,1575 985.3,1576.1 987.5,1577.2 989.7,1578.3M1011.8,1587.5 1014.2,1587.9 1016.7,1588.2 1019.2,1588.3 1021.7,1588.4 1024.2,1588.3 1026.7,1588.1 1029.2,1587.8 1031.7,1587.3 1034.1,1586.8 1036.5,1586.1 1038.9,1585.4 1041.2,1584.5 1043.4,1583.4 1045.6,1582 1047.6,1580.6 1049.6,1579.1 1051.5,1577.6M1070.9,1563.5 1072.9,1562 1075,1560.6 1077,1559.1 1079,1557.7 1081,1556.2 1083.1,1554.7 1085.1,1553.3 1087.1,1551.8 1089.2,1550.3 1091.2,1548.9 1093.2,1547.4 1095.3,1546 1097.3,1544.6 1099.4,1543.2 1101.5,1541.8 1103.5,1540.4 1105.6,1539.1M1129.7,1525 1132,1523.8 1134.2,1522.8 1136.5,1521.7 1138.8,1520.7 1141.1,1519.7 1143.4,1518.8 1145.7,1517.9 1148.1,1517.1 1150.5,1516.3 1152.8,1515.5 1155.2,1514.8 1157.7,1514.2 1160.1,1513.6 1162.5,1513 1165,1512.6 1167.4,1512.1 1169.8,1511.8M1193.6,1511.6 1196,1512.2 1198.4,1512.9 1200.8,1513.7 1203.1,1514.6 1205.4,1515.6 1207.7,1516.6 1209.9,1517.7 1212.1,1518.9 1214.3,1520.1 1216.4,1521.4 1218.5,1522.8 1220.6,1524.2 1222.6,1525.7 1224.7,1527.1 1226.7,1528.6 1228.7,1530.1 1230.6,1531.6M1249.6,1546.6 1251.8,1547.9 1254,1549.1 1256.2,1550.2 1258.5,1551.1 1260.9,1551.9 1263.4,1552.3 1265.9,1552.5 1268.4,1552.5 1270.9,1552.3 1273.3,1552 1275.8,1551.4 1278.2,1550.7 1280.5,1549.8 1282.9,1549 1285.2,1548.1 1287.6,1547.4 1289.5,1546.7M1312.4,1541.7 1314.7,1542.5 1317,1543.5 1319.3,1544.7 1321.4,1546 1323.5,1547.3 1325.5,1548.8 1327.4,1550.4 1329.3,1552.1 1331.1,1553.8 1332.9,1555.6 1334.6,1557.4 1336.2,1559.3 1337.8,1561.2 1339.3,1563.2 1340.8,1565.3 1342.1,1567.3 1343.4,1569.4"/></g><rect x="584.6" y="1145.9" width="385.7" height="146.1" fill="#fff"/><line x1="633.2" y1="1182.2" x2="738.9" y2="1182.2" stroke="#000" stroke-width="5.9" stroke-linecap="round" stroke-dasharray="42.4 24"/><line x1="633.2" y1="1253.8" x2="738.9" y2="1253.8" stroke="#000" stroke-width="5.9" stroke-linecap="round"/><text x="750.6" y="1199.9" font-size="55">E-plane</text><text x="750.6" y="1271.2" font-size="55">H-plane</text><ellipse cx="520.9" cy="1078.5" rx="37.8" ry="102.4" fill="none" stroke="#000" stroke-width="3.4"/><ellipse cx="727.4" cy="1415.6" rx="38" ry="101.6" fill="none" stroke="#000" stroke-width="3.4"/><text x="302.9" y="1027.3" font-size="46">Co-polar</text><text x="545.1" y="1328.1" font-size="46">Cx-polar</text><text transform="translate(146,956.3) scale(0.98,1)" font-size="56.5" text-anchor="end">10</text><text transform="translate(146,1060.2) scale(0.98,1)" font-size="56.5" text-anchor="end">0</text><text transform="translate(146,1164) scale(0.98,1)" font-size="56.5" text-anchor="end">-10</text><text transform="translate(146,1267.9) scale(0.98,1)" font-size="56.5" text-anchor="end">-20</text><text transform="translate(146,1371.8) scale(0.98,1)" font-size="56.5" text-anchor="end">-30</text><text transform="translate(146,1475.6) scale(0.98,1)" font-size="56.5" text-anchor="end">-40</text><text transform="translate(146,1579.5) scale(0.98,1)" font-size="56.5" text-anchor="end">-50</text><text transform="translate(192,1643.5) scale(0.975,1)" font-size="56.5" text-anchor="middle">-180</text><text transform="translate(337.5,1643.5) scale(0.975,1)" font-size="56.5" text-anchor="middle">-135</text><text transform="translate(483.1,1643.5) scale(0.975,1)" font-size="56.5" text-anchor="middle">-90</text><text transform="translate(628.6,1643.5) scale(0.975,1)" font-size="56.5" text-anchor="middle">-45</text><text transform="translate(774.1,1643.5) scale(0.975,1)" font-size="56.5" text-anchor="middle">0</text><text transform="translate(919.6,1643.5) scale(0.975,1)" font-size="56.5" text-anchor="middle">45</text><text transform="translate(1065.2,1643.5) scale(0.975,1)" font-size="56.5" text-anchor="middle">90</text><text transform="translate(1210.7,1643.5) scale(0.975,1)" font-size="56.5" text-anchor="middle">135</text><text transform="translate(1356.2,1643.5) scale(0.975,1)" font-size="56.5" text-anchor="middle">180</text><text transform="translate(774,1726.3) scale(0.97,1)" font-size="65" font-weight="bold" text-anchor="middle">Angle, deg</text><text transform="translate(47.5,1250.3) rotate(-90) scale(0.97,1)" font-size="65" font-weight="bold" text-anchor="middle">Gain, dB</text><text transform="translate(789.5,1810.7) scale(1.05,1)" font-size="60" text-anchor="middle">(b)</text></g>
<g><defs><clipPath id="clip2"><rect x="189" y="1854.3" width="1170.2" height="629.3"/></clipPath></defs><line x1="192" y1="1961.2" x2="1356.2" y2="1961.2" stroke="#777" stroke-width="2.6"/><line x1="192" y1="2065.1" x2="1356.2" y2="2065.1" stroke="#777" stroke-width="2.6"/><line x1="192" y1="2168.9" x2="1356.2" y2="2168.9" stroke="#777" stroke-width="2.6"/><line x1="192" y1="2272.8" x2="1356.2" y2="2272.8" stroke="#777" stroke-width="2.6"/><line x1="192" y1="2376.7" x2="1356.2" y2="2376.7" stroke="#777" stroke-width="2.6"/><line x1="337.5" y1="2464.6" x2="337.5" y2="2480.6" stroke="#7f7f7f" stroke-width="3"/><line x1="483.1" y1="2464.6" x2="483.1" y2="2480.6" stroke="#7f7f7f" stroke-width="3"/><line x1="628.6" y1="2464.6" x2="628.6" y2="2480.6" stroke="#7f7f7f" stroke-width="3"/><line x1="774.1" y1="2464.6" x2="774.1" y2="2480.6" stroke="#7f7f7f" stroke-width="3"/><line x1="919.6" y1="2464.6" x2="919.6" y2="2480.6" stroke="#7f7f7f" stroke-width="3"/><line x1="1065.2" y1="2464.6" x2="1065.2" y2="2480.6" stroke="#7f7f7f" stroke-width="3"/><line x1="1210.7" y1="2464.6" x2="1210.7" y2="2480.6" stroke="#7f7f7f" stroke-width="3"/><line x1="190.5" y1="2480.6" x2="1356.2" y2="2480.6" stroke="#7f7f7f" stroke-width="3"/><line x1="192" y1="1857.3" x2="192" y2="2480.6" stroke="#7f7f7f" stroke-width="3.2"/><line x1="191" y1="1857.3" x2="1357.7" y2="1857.3" stroke="#000" stroke-width="3.2"/><line x1="1356.2" y1="1857.3" x2="1356.2" y2="2463.7" stroke="#000" stroke-width="3.2"/><line x1="1356.2" y1="2463.7" x2="1356.2" y2="2480.6" stroke="#999" stroke-width="1"/><g clip-path="url(#clip2)" fill="none" stroke="#000" stroke-width="5.9" stroke-linecap="round" stroke-linejoin="round"><path d="M192.5,2010.6C199.7,2011.4 207,2011.3 214.2,2012.9C221.8,2014.6 229.4,2017.2 237,2020.8C244.6,2024.4 252.1,2029.2 259.7,2034.5C267.3,2039.8 274.9,2046.6 282.5,2052.7C290.1,2058.8 297.7,2065.3 305.3,2071C312.9,2076.7 320.5,2082.3 328.1,2086.9C335.7,2091.4 343.2,2095.9 350.8,2098.3C353.9,2099.3 356.9,2100 360,2100.5C364.1,2101.2 368.1,2101.5 372.2,2101.2C376.2,2100.9 380.3,2100 384.3,2098.7C388.4,2097.4 392.4,2095.4 396.5,2093.3C400.5,2091.2 404.6,2088.6 408.6,2086C412.7,2083.4 416.7,2080.5 420.8,2077.5C424.8,2074.5 428.9,2071.1 432.9,2067.8C437,2064.4 441,2060.8 445.1,2057.4C449.1,2054.1 453.2,2050.8 457.2,2047.7C461.3,2044.6 465.3,2041.7 469.4,2038.6C473.4,2035.5 477.5,2032.1 481.5,2028.9C485.6,2025.7 489.6,2022.5 493.7,2019.2C497.7,2016 501.8,2012.6 505.8,2009.4C510.5,2005.7 515.3,2002.1 520,1998.5C526.1,1993.8 532.2,1988.9 538.3,1984.4C545.9,1978.8 553.5,1973.4 561.1,1968.5C568.7,1963.6 576.3,1959.2 583.9,1954.8C591.5,1950.4 599.1,1946.1 606.7,1942.3C614.3,1938.5 621.9,1935.2 629.5,1932C637.1,1928.8 644.6,1925.7 652.2,1922.9C659.8,1920 667.4,1917.4 675,1914.9C682.6,1912.4 690.2,1910 697.8,1908.1C705.4,1906.2 713,1904.8 720.6,1903.5C728.2,1902.2 735.7,1901 743.3,1900.1C752.2,1899 761.1,1898.2 770,1897.8C774.3,1897.6 778.5,1897.4 782.8,1897.4C790.4,1897.4 798,1898.2 805.6,1899C813.2,1899.8 820.7,1900.9 828.3,1902.4C835.9,1903.9 843.5,1906 851.1,1908.1C858,1910 865,1912.3 871.9,1914.4C875.4,1915.5 879,1916.4 882.5,1917.6C886.1,1918.8 889.6,1920.1 893.2,1921.4C896.7,1922.6 900.3,1923.8 903.8,1925.1C907.3,1926.4 910.9,1927.8 914.4,1929.3C917.9,1930.8 921.5,1932.5 925,1934.1C928.6,1935.7 932.1,1937.2 935.7,1938.9C939.2,1940.6 942.8,1942.4 946.3,1944.2C950.9,1946.5 955.4,1948.8 960,1951.2C965.1,1953.8 970.1,1956.4 975.2,1959.3C980.3,1962.2 985.3,1965.4 990.4,1968.6C995.5,1971.8 1000.5,1975 1005.6,1978.3C1010.6,1981.6 1015.7,1984.9 1020.7,1988.6C1025.8,1992.3 1030.8,1996.7 1035.9,2000.7C1041,2004.8 1046,2008.9 1051.1,2012.9C1056.2,2017 1061.2,2020.8 1066.3,2025C1071.4,2029.2 1076.4,2033.8 1081.5,2038C1086.6,2042.2 1091.6,2045.8 1096.7,2050.1C1101.8,2054.4 1106.8,2059.5 1111.9,2063.8C1116.9,2068.1 1122,2072.1 1127,2075.9C1136.1,2082.7 1145.1,2089 1154.2,2093.6C1163.6,2098.4 1173,2103.2 1182.4,2103.8C1190.3,2104.3 1198.1,2102.2 1206,2099.5C1213.8,2096.8 1221.7,2092.9 1229.5,2087.8C1237.3,2082.7 1245.2,2075.2 1253,2068.9C1260.9,2062.6 1268.7,2056 1276.6,2050.1C1284.4,2044.2 1292.3,2038.7 1300.1,2033.6C1308,2028.5 1315.8,2023.2 1323.7,2019.5C1330,2016.5 1336.2,2013.7 1342.5,2012.4C1347.2,2011.4 1351.9,2011.7 1356.6,2011.3"/><path d="M192.5,2436C193.8,2441.2 195.1,2447.2 196.4,2451.5C197.6,2455.4 198.8,2458.3 200,2461C201.4,2464.1 202.7,2466.7 204.1,2468.5C205.6,2470.5 207,2473.6 208.5,2472C209.5,2470.9 210.5,2467.4 211.5,2465C213.3,2460.7 215.1,2456.4 216.9,2451.9C218.4,2448.2 219.9,2444.1 221.4,2440.5C222.9,2436.8 224.5,2433.4 226,2430C227.5,2426.6 229.1,2423.6 230.6,2420C232.4,2415.7 234.2,2410.2 236,2406C238.7,2399.7 241.3,2394.9 244,2390C247,2384.5 249.9,2379.3 252.9,2375C259,2366.3 265,2362.7 271.1,2358.2C278.7,2352.6 286.3,2349.1 293.9,2346.8C301.5,2344.5 309.1,2344.9 316.7,2344.5C324.3,2344.1 331.9,2345.1 339.5,2344.5C347.1,2343.9 354.6,2342.6 362.2,2341.1C369.8,2339.6 377.4,2337.3 385,2335.4C392.6,2333.5 400.2,2331.3 407.8,2329.7C415.4,2328.1 423,2326.8 430.6,2325.8C438.2,2324.9 445.7,2324.3 453.3,2324C458.9,2323.8 464.4,2323.9 470,2324C477.6,2324.2 485.2,2325 492.8,2325.2C500.4,2325.4 508,2325.6 515.6,2325.2C523.2,2324.8 530.7,2323.8 538.3,2322.9C545.9,2321.9 553.5,2321 561.1,2319.5C568.7,2318 576.3,2315.5 583.9,2313.8C591.5,2312.1 599.1,2310.3 606.7,2309.2C614.3,2308 621.9,2307.2 629.5,2306.9C637.1,2306.6 644.6,2306.9 652.2,2307.6C659.8,2308.3 667.4,2310.5 675,2313.8C682.6,2317.1 690.2,2321.5 697.8,2327.4C705.4,2333.3 713,2340.5 720.6,2349.1C728.2,2357.6 735.7,2371.8 743.3,2378.7C748.6,2383.6 754,2388.6 759.3,2388.9C763.3,2389.2 767.4,2387.2 771.4,2384.4C775.2,2381.8 779,2377.1 782.8,2373C790.4,2364.8 798,2353.4 805.6,2344.5C813.2,2335.6 820.7,2326.3 828.3,2319.5C835.9,2312.6 843.5,2307.7 851.1,2303.5C858.7,2299.3 866.3,2296.5 873.9,2294.4C881.5,2292.3 889.1,2291.8 896.7,2291C904.3,2290.2 911.9,2289.8 919.5,2289.8C927.1,2289.8 934.6,2290.2 942.2,2291C949.8,2291.8 957.4,2293.3 965,2294.4C972.6,2295.5 980.2,2296.7 987.8,2297.8C995.4,2298.9 1003,2300.3 1010.6,2301.2C1018.2,2302.1 1025.7,2302.6 1033.3,2303.1C1042.2,2303.7 1051.1,2304.2 1060,2304.3C1071.8,2304.4 1083.5,2303.1 1095.3,2302.9C1107.1,2302.7 1118.8,2302.4 1130.6,2302.9C1142.4,2303.4 1154.1,2304.7 1165.9,2306C1177.7,2307.3 1189.4,2309 1201.2,2310.7C1213,2312.5 1224.8,2314.1 1236.6,2316.5C1248.4,2318.8 1260.1,2319.8 1271.9,2324.8C1279.7,2328.1 1287.6,2331.7 1295.4,2337.7C1301.7,2342.5 1307.9,2347.9 1314.2,2355.4C1319.7,2362 1325.2,2368.6 1330.7,2378.9C1334.6,2386.3 1338.6,2395.4 1342.5,2404.8C1346.4,2414.2 1350.4,2432.1 1354.3,2435.4C1355.2,2436.2 1356.1,2436.2 1357,2436.6"/><path d="M195.3,2011.6 197.7,2012.3 200.1,2013 202.4,2013.8 204.8,2014.7 207,2015.8 209.2,2017.1 211.1,2018.5 213.1,2020 215,2021.6 216.8,2023.3 218.6,2025.1 220.3,2026.9 221.9,2028.8 223.5,2030.7 225.1,2032.7 226.5,2034.7 227.3,2035.8M239.4,2056.5 240.5,2058.8 241.6,2061 242.7,2063.3 243.7,2065.6 244.7,2067.8 245.7,2070.1 246.7,2072.4 247.6,2074.8 248.5,2077.1 249.4,2079.4 250.3,2081.8 251.2,2084.1 252,2086.5 252.9,2088.8 253.8,2091.1 254.7,2093.5 255.5,2095.7M264.7,2117.9 266.3,2119.8 268.4,2121.1 270.6,2120.1 272.1,2118.1 273.4,2116 274.6,2113.8 275.9,2111.7 277.1,2109.5 278.3,2107.3 279.4,2105 280.5,2102.8 281.5,2100.5 282.5,2098.2 283.5,2095.9 284.5,2093.6 285.5,2091.3 286.3,2089.4M295.1,2067.1 296.1,2064.8 297.2,2062.6 298.3,2060.3 299.4,2058.1 300.5,2055.8 301.7,2053.6 302.9,2051.4 304.1,2049.3 305.4,2047.1 306.8,2045 308.2,2042.9 309.6,2040.9 311.1,2038.9 312.7,2037 314.3,2035 315.9,2033.1 317.5,2031.3M336.2,2015.7 338.3,2014.3 340.3,2012.9 342.5,2011.6 344.6,2010.3 346.8,2009.1 349,2007.9 351.3,2006.8 353.5,2005.8 355.9,2004.9 358.2,2004 360.6,2003.2 363,2002.5 365.4,2001.9 367.8,2001.3 370.3,2000.9 372.8,2000.4 374.3,2000.2M398.2,1999 400.7,1998.7 403.2,1998.5 405.7,1998.2 408.2,1998 410.7,1997.7 413.2,1997.4 415.6,1997.1 418.1,1996.7 420.6,1996.4 423.1,1996.1 425.5,1995.7 428,1995.4 430.5,1995 433,1994.6 435.4,1994.1 437.9,1993.6 439.9,1993.2M463,1986.8 465.3,1985.8 467.6,1984.8 469.8,1983.7 472.1,1982.7 474.4,1981.6 476.6,1980.6 478.9,1979.5 481.2,1978.5 483.4,1977.5 485.7,1976.4 488,1975.4 490.3,1974.4 492.6,1973.4 494.9,1972.4 497.1,1971.3 499.4,1970.3 501.6,1969.2M523.9,1958 526.2,1956.9 528.4,1955.8 530.7,1954.7 532.9,1953.6 535.2,1952.5 537.4,1951.4 539.7,1950.3 541.9,1949.2 544.2,1948.1 546.4,1947 548.7,1945.9 550.9,1944.9 553.2,1943.8 555.4,1942.7 557.7,1941.6 559.9,1940.6 561.4,1939.8M583.2,1929.8 585.6,1928.9 587.9,1928.1 590.3,1927.3 592.7,1926.5 595,1925.7 597.4,1925 599.8,1924.3 602.2,1923.6 604.7,1922.9 607.1,1922.3 609.5,1921.6 611.9,1921 614.3,1920.3 616.7,1919.6 619.1,1919 621.5,1918.3 623.8,1917.6M647.2,1911.4 649.6,1910.9 652.1,1910.4 654.6,1910 657,1909.6 659.5,1909.3 662,1908.9 664.5,1908.6 666.9,1908.3 669.4,1908 671.9,1907.7 674.4,1907.4 676.9,1907.1 679.3,1906.8 681.8,1906.5 684.3,1906.1 686.8,1905.7 689.1,1905.4M712.8,1901.5 715.3,1901.1 717.8,1900.8 720.3,1900.5 722.7,1900.2 725.2,1899.9 727.7,1899.7 730.2,1899.5 732.7,1899.3 735.2,1899.1 737.7,1898.9 740.2,1898.8 742.7,1898.6 745.2,1898.5 747.7,1898.3 750.2,1898.2 752.7,1898.1 755.1,1898M779.1,1897.3 781.6,1897.3 784,1897.2 786.5,1897.2 789,1897.2 791.5,1897.2 794,1897.3 796.5,1897.3 799,1897.3 801.5,1897.3 804,1897.4 806.5,1897.5 809,1897.5 811.5,1897.6 814,1897.7 816.5,1897.8 817.6,1897.8M841.5,1899.3 844,1899.5 846.5,1899.7 849,1900 851.5,1900.3 854,1900.6 856.4,1901 858.9,1901.3 861.4,1901.6 863.9,1902 866.3,1902.3 868.8,1902.6 871.3,1903 873.8,1903.3 876.3,1903.6 878.7,1904 881.2,1904.3 882.6,1904.4M906.4,1907.4 908.9,1907.9 911.3,1908.3 913.8,1908.8 916.2,1909.4 918.6,1909.9 921.1,1910.5 923.5,1911.1 925.9,1911.7 928.3,1912.4 930.8,1913 933.2,1913.7 935.6,1914.3 938,1915 940.4,1915.7 942.8,1916.4 945.2,1917.1 947.2,1917.7M970.1,1925 972.4,1925.8 974.8,1926.7 977.1,1927.6 979.5,1928.5 981.8,1929.4 984.1,1930.3 986.4,1931.2 988.7,1932.2 991,1933.2 993.3,1934.2 995.6,1935.2 997.9,1936.2 1000.2,1937.2 1002.4,1938.3 1004.7,1939.3 1007,1940.4 1009.1,1941.5M1030.4,1952.7 1032.6,1953.7 1034.9,1954.7 1037.2,1955.7 1039.5,1956.7 1041.8,1957.6 1044.1,1958.6 1046.4,1959.6 1048.7,1960.6 1051,1961.6 1053.2,1962.7 1055.5,1963.9 1057.6,1965.1 1059.8,1966.4 1061.9,1967.7 1064,1969.1 1066,1970.5 1068.1,1971.8M1089.8,1981.8 1092.2,1982.7 1094.5,1983.6 1096.9,1984.4 1099.2,1985.3 1101.6,1986 1104,1986.8 1106.4,1987.5 1108.8,1988.2 1111.2,1988.8 1113.7,1989.3 1116.1,1989.8 1118.6,1990.3 1121,1990.8 1123.5,1991.2 1125.9,1991.7 1128.4,1992.2 1130.7,1992.7M1154.7,1997.6 1157.2,1998 1159.6,1998.4 1162.1,1998.8 1164.6,1999.2 1167.1,1999.6 1169.5,2000 1172,2000.5 1174.4,2001 1176.9,2001.5 1179.3,2002.1 1181.7,2002.7 1184.2,2003.3 1186.6,2003.9 1189,2004.6 1191.3,2005.4 1193.7,2006.3 1195.7,2007.1M1216.5,2018.9 1218.5,2020.5 1220.4,2022.1 1222.3,2023.7 1224.1,2025.4 1225.9,2027.2 1227.6,2029 1229.2,2030.9 1230.8,2032.9 1232.3,2034.9 1233.8,2036.9 1235.2,2038.9 1236.6,2041 1238,2043 1239.4,2045.1 1240.7,2047.3 1242,2049.4 1243.2,2051.5M1254.3,2072.8 1255.3,2075 1256.3,2077.3 1257.3,2079.6 1258.3,2081.9 1259.3,2084.2 1260.4,2086.4 1261.6,2088.7 1262.8,2090.8 1264.2,2092.9 1265.6,2095 1267.2,2096.9 1268.9,2098.7 1271,2100.1 1273.3,2101 1275.7,2100.7 1277.8,2099.3 1279.5,2097.6M1293.4,2075.7 1294.6,2073.6 1295.8,2071.4 1296.9,2069.2 1298.1,2066.9 1299.3,2064.7 1300.5,2062.5 1301.6,2060.3 1302.9,2058.1 1304.1,2056 1305.4,2053.8 1306.7,2051.7 1308,2049.6 1309.4,2047.5 1310.7,2045.4 1312.1,2043.3 1313.6,2041.2 1314,2040.6M1329.4,2022.3 1331.4,2020.7 1333.5,2019.3 1335.6,2018.1 1337.8,2016.9 1340.1,2015.8 1342.4,2014.8 1344.7,2014 1347.1,2013.3 1349.6,2012.7 1352,2012.3 1354.5,2011.8 1356.6,2011.3"/><path d="M194.5,2438.2 196.1,2440 197.8,2441.9 199.5,2443.6 201.4,2445.3 203.2,2447 204.7,2449 206,2451.1 207.3,2453.3 208.6,2455.4 209.9,2457.5 211,2459.8 211.7,2462.2 212.3,2464.6 213,2467 213.8,2469.4 214.8,2471.6 215.5,2473.9M221.3,2497.2 222,2499.6 222.9,2502 224.1,2504.2 226.1,2505.5 228.4,2506.5 230.7,2507.5 233,2508.4 235.4,2509.1 237.9,2509.5 240.4,2509.4 242.8,2508.9 245.1,2507.9 247.3,2506.6 249.3,2505.1 251.1,2503.5 252.9,2501.7 254.5,2499.9M266.4,2479.1 267.4,2476.8 268.4,2474.5 269.3,2472.2 270.3,2469.9 271.3,2467.6 272.3,2465.3 273.4,2463.1 274.5,2460.8 275.7,2458.6 276.9,2456.5 278.2,2454.3 279.6,2452.2 280.9,2450.1 282.4,2448.1 283.8,2446 285.3,2444 285.7,2443.5M303.2,2427.2 305.3,2426 307.6,2424.9 309.9,2424 312.3,2423.3 314.8,2422.7 317.2,2422.3 319.7,2422.1 322.2,2422 324.7,2422.1 327.2,2422.3 329.7,2422.8 332.1,2423.4 334.5,2424.2 336.8,2425 339.1,2426 341.4,2427 343.6,2428M364.3,2442.3 366,2444.1 367.6,2446 369.3,2447.9 370.9,2449.8 372.4,2451.8 374,2453.7 375.6,2455.7 377.1,2457.6 378.7,2459.6 380.3,2461.5 381.8,2463.5 383.3,2465.5 384.8,2467.4 386.3,2469.5 387.7,2471.5 389.1,2473.6 390.4,2475.6M403,2496.1 404.5,2498 406.2,2499.9 407.9,2501.7 409.7,2503.5 411.5,2505.1 413.5,2506.7 415.5,2508.2 417.6,2509.6 419.7,2510.8 422,2511.9 424.2,2513 426.6,2513.9 428.9,2514.7 431.3,2515.4 433.7,2516.1 436.1,2516.8 438.5,2517.4M462.1,2521.3 464.6,2521.4 467.1,2521.4 469.6,2521.3 472.1,2521.2 474.6,2520.9 477,2520.5 479.5,2520.1 482,2519.6 484.4,2519.2 486.9,2518.9 489.4,2518.5 491.8,2518.1 494.3,2517.6 496.7,2517.1 499.1,2516.3 501.5,2515.4 503.6,2514.4M520.3,2497.5 521.6,2495.4 522.9,2493.3 524.2,2491.1 525.5,2489 526.8,2486.9 528.1,2484.7 529.4,2482.6 530.8,2480.6 532.3,2478.5 533.7,2476.5 535.2,2474.5 536.7,2472.5 538.2,2470.5 539.8,2468.5 541.3,2466.6 542.8,2464.6 544.3,2462.7M565.3,2433.3 566.9,2431.5 568.7,2429.6 570.4,2427.9 572.2,2426.1 574,2424.4 575.9,2422.8 577.8,2421.1 579.6,2419.4 581.5,2417.7 583.4,2416.1 585.3,2414.5 587.2,2412.9 589.1,2411.3 591.1,2409.8 593.1,2408.3 595.2,2406.8 597.2,2405.5M618.6,2395 621.1,2394.4 623.5,2394 626,2393.6 628.5,2393.4 631,2393.4 633.5,2393.5 636,2393.7 638.5,2393.9 640.9,2394.3 643.4,2394.8 645.8,2395.4 648.2,2396.2 650.5,2397.1 652.8,2398.2 654.9,2399.4 657,2400.8 658.9,2402.3M675.7,2420.9 677.1,2422.9 678.6,2424.9 680,2427 681.4,2429.1 682.7,2431.2 684,2433.3 685.2,2435.5 686.4,2437.7 687.6,2439.9 688.7,2442.1 689.8,2444.4 690.9,2446.6 692,2448.9 693.1,2451.1 694.2,2453.4 695.3,2455.6 696.3,2457.8M707.6,2479 709.2,2480.8 711.4,2482 713.5,2480.9 715,2478.8 716.3,2476.7 717.4,2474.5 718.6,2472.2 719.8,2470.1 721.1,2468 722.6,2465.9 724.1,2464 725.6,2462 727,2459.9 728.3,2457.7 729.5,2455.5 730.5,2453.2 730.5,2453.1M738.8,2430.6 739.8,2428.3 740.9,2426 741.9,2423.7 743,2421.5 744.1,2419.2 745.2,2417 746.4,2414.8 747.6,2412.6 748.8,2410.4 750.1,2408.3 751.5,2406.2 752.8,2404.1 754.2,2402 755.7,2400 757.1,2397.9 758.4,2396.2M774.3,2378.3 776.4,2377.1 778.7,2376 781.1,2375.2 783.5,2374.6 786,2374.2 788.5,2374 791,2374 793.5,2374.1 795.9,2374.2 798.4,2374.5 800.9,2374.9 803.3,2375.5 805.7,2376.3 808,2377.2 810.3,2378.3 812.4,2379.6 814.4,2381M832.1,2401.7 833.3,2403.9 834.5,2406.1 835.6,2408.4 836.7,2410.6 837.8,2412.9 838.8,2415.1 839.9,2417.4 840.9,2419.7 842,2421.9 843,2424.2 844.1,2426.5 845.3,2428.7 846.4,2430.9 847.5,2433.2 848.6,2435.4 849.6,2437.7 850.5,2439.9M861,2477.1 861.7,2479.5 862.4,2481.9 863.2,2484.3 863.9,2486.7 864.8,2489.1 865.7,2491.4 866.8,2493.6 868.1,2495.8 869.5,2497.8 871.3,2499.6 873.4,2500.9 875.7,2501.7 878.2,2502 880.7,2502 883.2,2501.8 885.6,2501.1 887.7,2500M899,2479.2 899.8,2476.8 900.7,2474.5 901.6,2472.2 902.5,2469.9 903.5,2467.5 904.4,2465.2 905.4,2462.9 906.3,2460.6 907.3,2458.3 908.3,2456 909.3,2453.7 910.4,2451.5 911.4,2449.2 912.5,2446.9 913.5,2444.7 914.6,2442.4 915.7,2440.3M936.6,2414.4 938.6,2413 940.7,2411.6 942.9,2410.4 945.1,2409.3 947.4,2408.3 949.7,2407.4 952.1,2406.5 954.5,2405.7 956.9,2405 959.3,2404.5 961.8,2404.1 964.3,2403.8 966.8,2403.6 969.3,2403.5 971.8,2403.4 974.2,2403.3 974.8,2403.3M998.7,2405.2 1001.2,2405.6 1003.7,2405.9 1006.2,2406.3 1008.6,2406.7 1011.1,2407 1013.6,2407.3 1016.1,2407.7 1018.5,2407.9 1021,2408.2 1023.5,2408.4 1026,2408.6 1028.5,2408.9 1031,2409 1033.5,2409.2 1036,2409.3 1038.5,2409.4 1040.4,2409.4M1064.4,2408.2 1066.8,2407.9 1069.3,2407.6 1071.8,2407.3 1074.3,2406.9 1076.7,2406.5 1079.2,2406.1 1081.7,2405.6 1084.1,2405.2 1086.6,2404.7 1089,2404.1 1091.4,2403.6 1093.9,2403 1096.3,2402.4 1098.7,2401.7 1101.1,2401.1 1103.5,2400.4 1105.9,2399.8M1129.9,2392.1 1132.3,2391.3 1134.6,2390.5 1137,2389.7 1139.4,2388.9 1141.8,2388.1 1144.2,2387.4 1146.6,2386.7 1149,2386.1 1151.4,2385.6 1153.9,2385.1 1156.3,2384.6 1158.8,2384.2 1161.3,2383.9 1163.8,2383.6 1166.2,2383.3 1168.7,2383.2 1170.9,2383.1M1194.7,2385.5 1197.1,2386.2 1199.4,2387.1 1201.7,2388 1204,2389.1 1206.2,2390.3 1208.4,2391.5 1210.5,2392.8 1212.5,2394.2 1214.6,2395.7 1216.6,2397.1 1218.6,2398.7 1220.5,2400.3 1222.3,2402 1224.1,2403.8 1225.8,2405.6 1227.4,2407.5 1228.8,2409.4M1241.6,2429.7 1242.9,2431.9 1244.1,2434.1 1245.3,2436.2 1246.5,2438.4 1247.7,2440.7 1248.8,2442.9 1249.8,2445.2 1250.8,2447.5 1251.8,2449.8 1252.7,2452.1 1253.6,2454.4 1254.5,2456.8 1255.4,2459.1 1256.2,2461.5 1257,2463.8 1257.8,2466.2 1258.4,2468.5M1266.2,2491.1 1267.8,2493 1269.7,2494.6 1271.9,2495.8 1274.3,2496.4 1276.8,2496.8 1279.3,2497.2 1281.8,2497.3 1284.2,2496.9 1286.6,2496.1 1288.7,2494.9 1290.7,2493.3 1292.4,2491.5 1293.9,2489.5 1295.2,2487.3 1296.4,2485.1 1297.6,2482.9 1298.7,2480.8M1322,2439.1 1323.8,2437.3 1325.6,2435.6 1327.6,2434 1329.6,2432.6 1331.8,2431.4 1334.1,2430.4 1336.5,2429.8 1339,2429.4 1341.5,2429.6 1343.9,2430.3 1346.2,2431.3 1348.4,2432.4 1350.6,2433.6 1352.8,2434.8 1355,2435.9 1356.6,2436.6"/></g><rect x="584.6" y="2085" width="385.7" height="160" fill="#fff"/><line x1="633.2" y1="2129.5" x2="738.9" y2="2129.5" stroke="#000" stroke-width="5.9" stroke-linecap="round" stroke-dasharray="42.4 24"/><line x1="633.2" y1="2201.6" x2="738.9" y2="2201.6" stroke="#000" stroke-width="5.9" stroke-linecap="round"/><text x="750.6" y="2147.4" font-size="55">E-plane</text><text x="750.6" y="2219.7" font-size="55">H-plane</text><ellipse cx="530" cy="1992.6" rx="37.7" ry="102.3" fill="none" stroke="#000" stroke-width="3.4"/><ellipse cx="586.2" cy="2347.4" rx="38" ry="101.9" fill="none" stroke="#000" stroke-width="3.4"/><text x="312.1" y="1941.8" font-size="46">Co-polar</text><text x="355.3" y="2286.4" font-size="46">Cx-polar</text><text transform="translate(146,1874.9) scale(0.98,1)" font-size="56.5" text-anchor="end">10</text><text transform="translate(146,1978.8) scale(0.98,1)" font-size="56.5" text-anchor="end">0</text><text transform="translate(146,2082.7) scale(0.98,1)" font-size="56.5" text-anchor="end">-10</text><text transform="translate(146,2186.5) scale(0.98,1)" font-size="56.5" text-anchor="end">-20</text><text transform="translate(146,2290.4) scale(0.98,1)" font-size="56.5" text-anchor="end">-30</text><text transform="translate(146,2394.3) scale(0.98,1)" font-size="56.5" text-anchor="end">-40</text><text transform="translate(146,2498.2) scale(0.98,1)" font-size="56.5" text-anchor="end">-50</text><text transform="translate(192,2562.2) scale(0.975,1)" font-size="56.5" text-anchor="middle">-180</text><text transform="translate(337.5,2562.2) scale(0.975,1)" font-size="56.5" text-anchor="middle">-135</text><text transform="translate(483.1,2562.2) scale(0.975,1)" font-size="56.5" text-anchor="middle">-90</text><text transform="translate(628.6,2562.2) scale(0.975,1)" font-size="56.5" text-anchor="middle">-45</text><text transform="translate(774.1,2562.2) scale(0.975,1)" font-size="56.5" text-anchor="middle">0</text><text transform="translate(919.6,2562.2) scale(0.975,1)" font-size="56.5" text-anchor="middle">45</text><text transform="translate(1065.2,2562.2) scale(0.975,1)" font-size="56.5" text-anchor="middle">90</text><text transform="translate(1210.7,2562.2) scale(0.975,1)" font-size="56.5" text-anchor="middle">135</text><text transform="translate(1356.2,2562.2) scale(0.975,1)" font-size="56.5" text-anchor="middle">180</text><text transform="translate(774,2644.9) scale(0.97,1)" font-size="65" font-weight="bold" text-anchor="middle">Angle, deg</text><text transform="translate(47.5,2168.9) rotate(-90) scale(0.97,1)" font-size="65" font-weight="bold" text-anchor="middle">Gain, dB</text><text transform="translate(789.5,2722.3) scale(1.05,1)" font-size="60" text-anchor="middle">(c)</text></g>
</svg></body></html>
